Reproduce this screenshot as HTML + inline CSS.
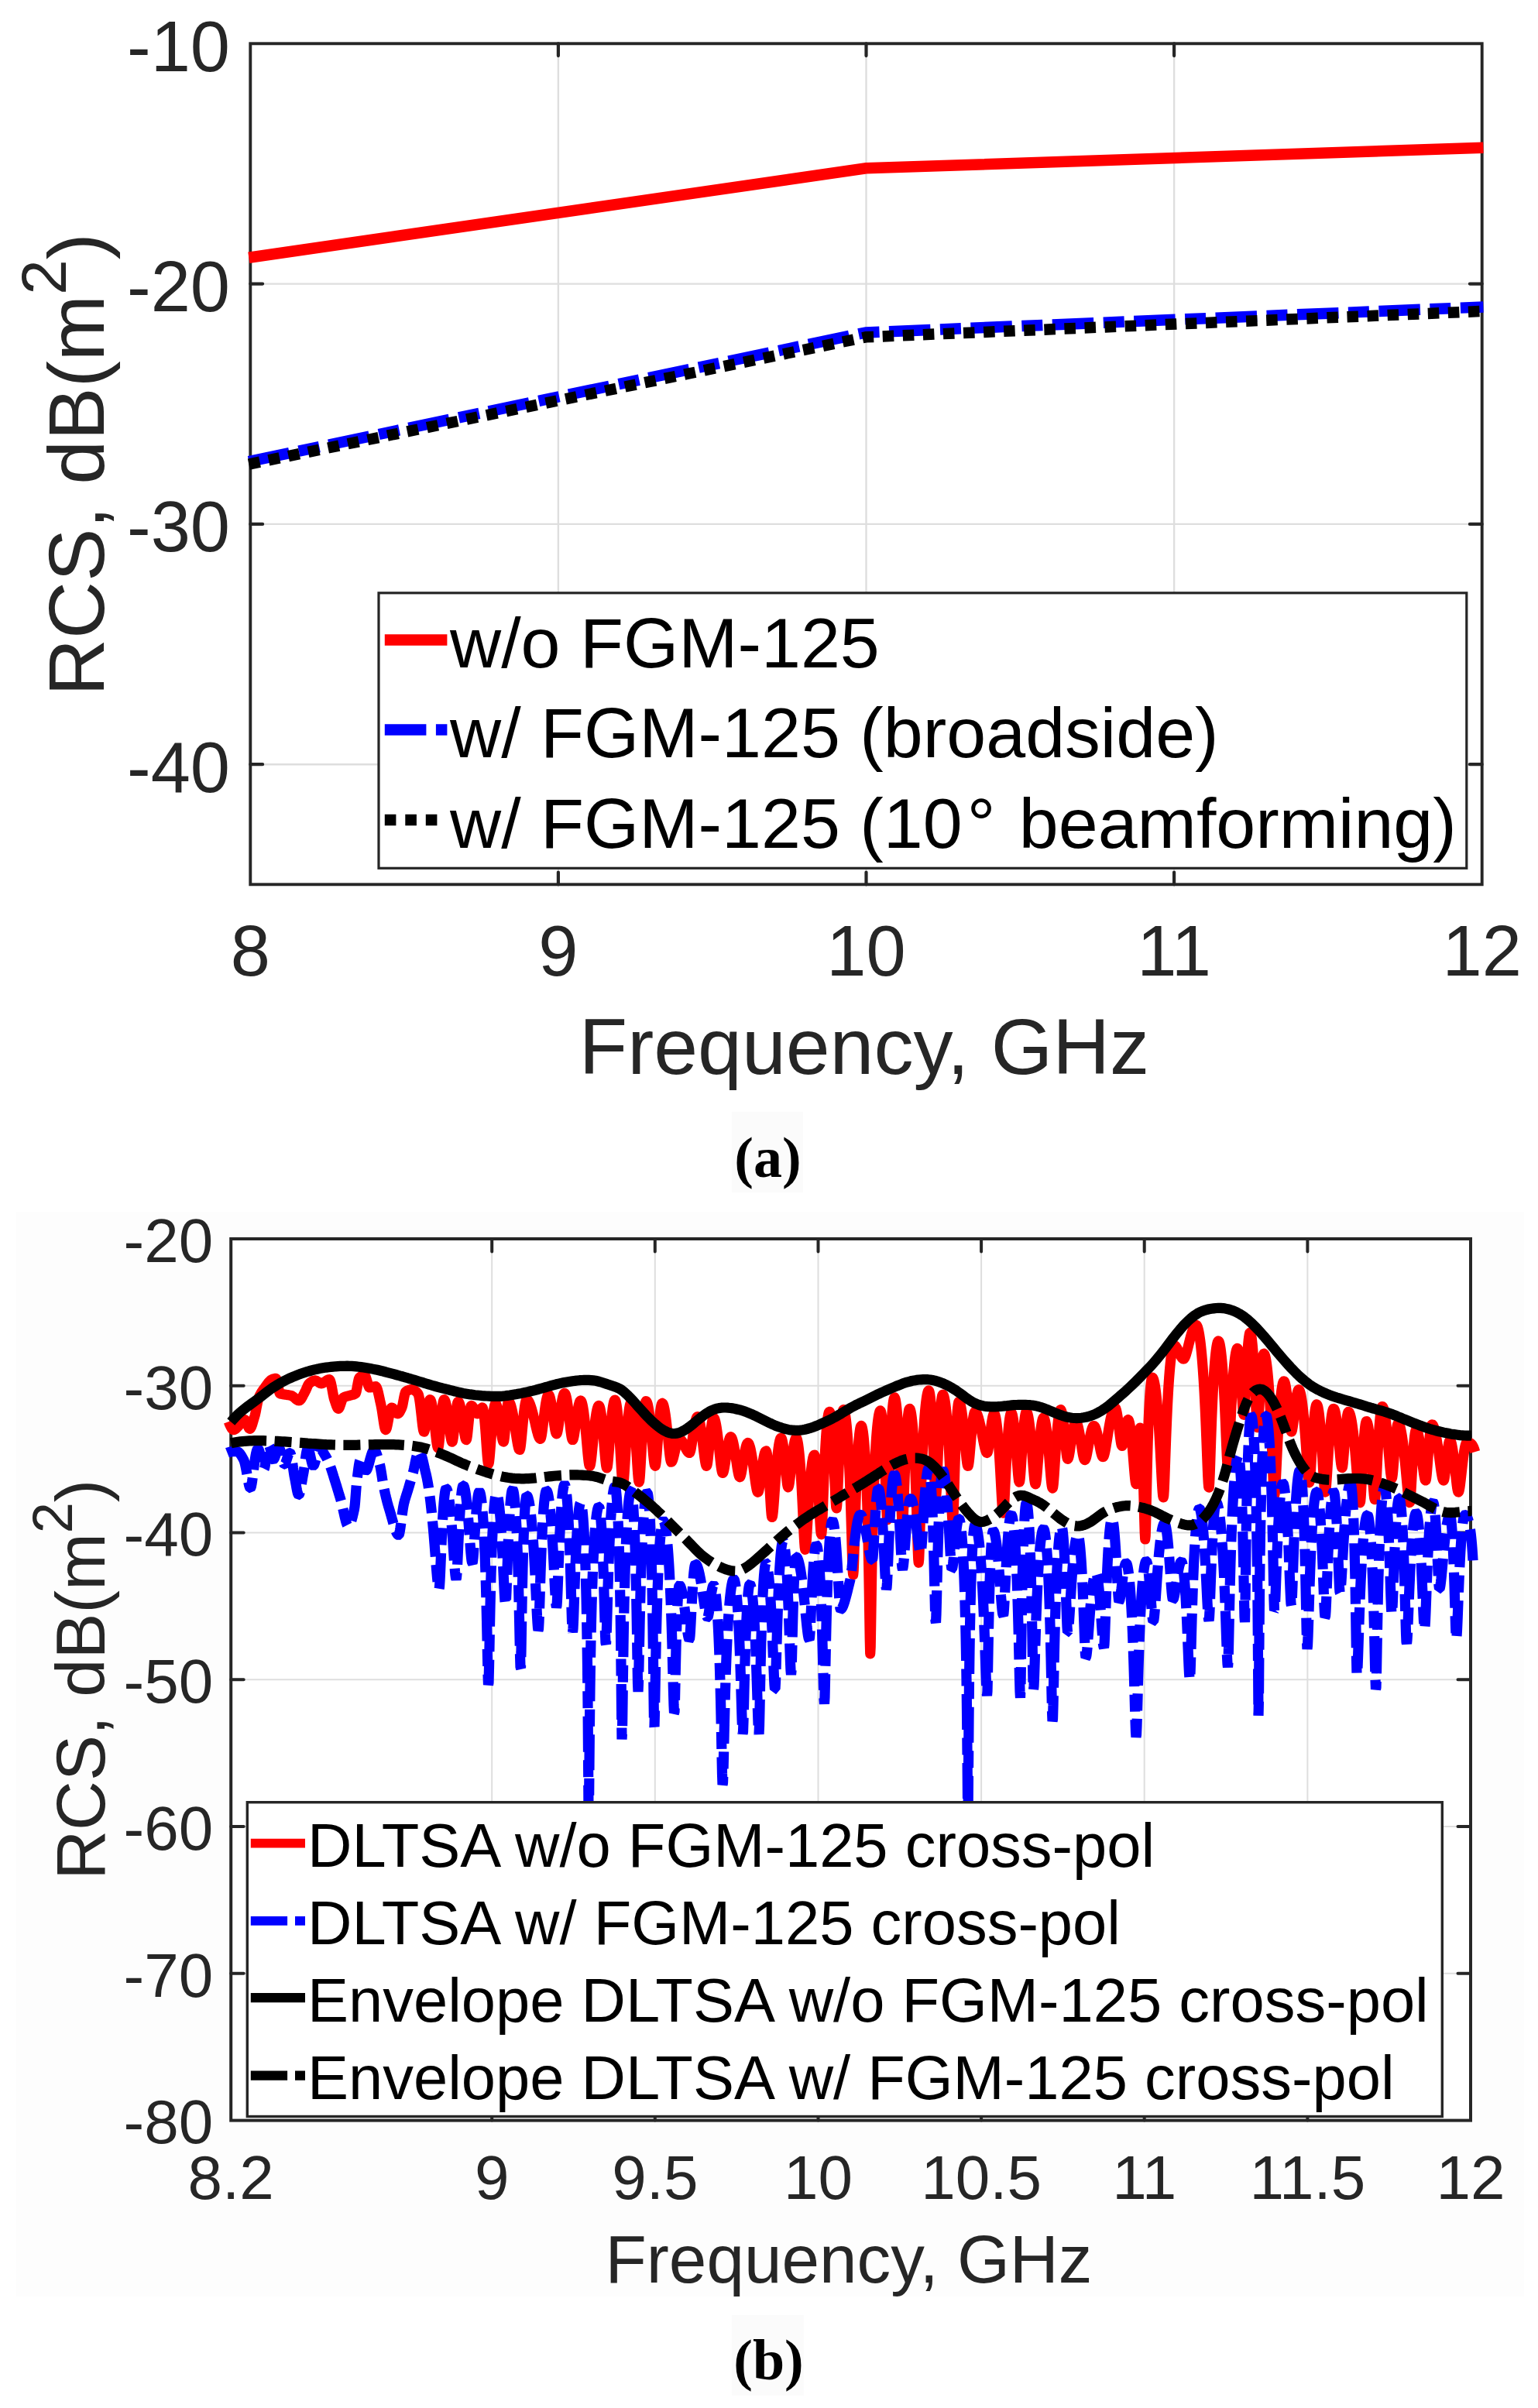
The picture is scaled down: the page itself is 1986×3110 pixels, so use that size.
<!DOCTYPE html>
<html lang="en">
<head>
<meta charset="utf-8">
<title>RCS vs Frequency</title>
<style>
html,body{margin:0;padding:0;background:#fff;}
body{width:1986px;height:3110px;overflow:hidden;}
svg{display:block;}
</style>
</head>
<body>
<svg width="1986" height="3110" viewBox="0 0 1986 3110">
<rect width="1986" height="3110" fill="#fff"/>
<g id="plot-a">
<line x1="720.9" y1="56.3" x2="720.9" y2="1142.3" stroke="#dedede" stroke-width="2.4"/>
<line x1="1118.5" y1="56.3" x2="1118.5" y2="1142.3" stroke="#dedede" stroke-width="2.4"/>
<line x1="1516.1" y1="56.3" x2="1516.1" y2="1142.3" stroke="#dedede" stroke-width="2.4"/>
<line x1="323.3" y1="366.6" x2="1913.7" y2="366.6" stroke="#dedede" stroke-width="2.4"/>
<line x1="323.3" y1="676.9" x2="1913.7" y2="676.9" stroke="#dedede" stroke-width="2.4"/>
<line x1="323.3" y1="987.2" x2="1913.7" y2="987.2" stroke="#dedede" stroke-width="2.4"/>
<path d="M720.9 1142.3 v-15.8 M720.9 56.3 v15.8" stroke="#262626" stroke-width="4.2" stroke-linecap="round" fill="none"/>
<path d="M1118.5 1142.3 v-15.8 M1118.5 56.3 v15.8" stroke="#262626" stroke-width="4.2" stroke-linecap="round" fill="none"/>
<path d="M1516.1 1142.3 v-15.8 M1516.1 56.3 v15.8" stroke="#262626" stroke-width="4.2" stroke-linecap="round" fill="none"/>
<path d="M323.3 366.6 h15.8 M1913.7 366.6 h-15.8" stroke="#262626" stroke-width="4.2" stroke-linecap="round" fill="none"/>
<path d="M323.3 676.9 h15.8 M1913.7 676.9 h-15.8" stroke="#262626" stroke-width="4.2" stroke-linecap="round" fill="none"/>
<path d="M323.3 987.2 h15.8 M1913.7 987.2 h-15.8" stroke="#262626" stroke-width="4.2" stroke-linecap="round" fill="none"/>
<rect x="323.3" y="56.3" width="1590.4" height="1086" fill="none" stroke="#262626" stroke-width="3.9"/>
<path d="M321.3 332.7 L1118.3 217.3 L1915.4 190.7" fill="none" stroke="#ff0000" stroke-width="14.5"/>
<path d="M321.3 596.1 L1118.3 429.4 L1915.4 396.4" fill="none" stroke="#0000ff" stroke-width="14.5" stroke-dasharray="53.5 12.5 27 12.5"/>
<path d="M321.3 599.6 L1118.3 435.3 L1915.4 401.9" fill="none" stroke="#000" stroke-width="14.5" stroke-dasharray="14.5 11.6"/>
<g font-family="'Liberation Sans', sans-serif" font-size="92" fill="#262626">
<text x="297" y="91.6" text-anchor="end">-10</text>
<text x="297" y="401.9" text-anchor="end">-20</text>
<text x="297" y="712.2" text-anchor="end">-30</text>
<text x="297" y="1022.5" text-anchor="end">-40</text>
<text x="323.3" y="1260" text-anchor="middle">8</text>
<text x="720.9" y="1260" text-anchor="middle">9</text>
<text x="1118.5" y="1260" text-anchor="middle">10</text>
<text x="1516.1" y="1260" text-anchor="middle">11</text>
<text x="1913.7" y="1260" text-anchor="middle">12</text>
</g>
<text x="1116" y="1386.5" font-family="'Liberation Sans', sans-serif" font-size="102.2" fill="#262626" text-anchor="middle">Frequency, GHz</text>
<text transform="translate(134 600) rotate(-90)" font-family="'Liberation Sans', sans-serif" font-size="102.5" fill="#262626" text-anchor="middle">RCS, dB(m<tspan dy="-49" font-size="82">2</tspan><tspan dy="49">)</tspan></text>
<rect x="489" y="765.8" width="1404.8" height="355.5" fill="#fff" stroke="#262626" stroke-width="3.2"/>
<path d="M496.8 826.6 H577.4" stroke="#ff0000" stroke-width="14.5" fill="none"/>
<path d="M496.8 942.6 H577.4" stroke="#0000ff" stroke-width="14.5" stroke-dasharray="53.6 12.5 27 12" fill="none"/>
<path d="M496.8 1059 H570" stroke="#000" stroke-width="14.5" stroke-dasharray="14.6 11.9" fill="none"/>
<g font-family="'Liberation Sans', sans-serif" font-size="91.6" fill="#000">
<text x="581" y="861.5">w/o FGM-125</text>
<text x="581" y="977.5">w/ FGM-125 (broadside)</text>
<text x="581" y="1094.5">w/ FGM-125 (10<tspan dx="6">°</tspan><tspan dx="5"> beamforming)</tspan></text>
</g>
<rect x="945" y="1436" width="92" height="104" fill="#fbfbfb"/>
<text x="991.5" y="1519.5" font-family="'Liberation Serif', serif" font-size="74" font-weight="bold" fill="#000" text-anchor="middle">(a)</text>
</g>
<g id="plot-b">
<rect x="21" y="1565" width="1947" height="1401" fill="#fdfdfd"/>
<rect x="298.2" y="1600" width="1600.8" height="1138.6" fill="#fff"/>
<line x1="635.2" y1="1600" x2="635.2" y2="2738.6" stroke="#dedede" stroke-width="2"/>
<line x1="845.8" y1="1600" x2="845.8" y2="2738.6" stroke="#dedede" stroke-width="2"/>
<line x1="1056.5" y1="1600" x2="1056.5" y2="2738.6" stroke="#dedede" stroke-width="2"/>
<line x1="1267.1" y1="1600" x2="1267.1" y2="2738.6" stroke="#dedede" stroke-width="2"/>
<line x1="1477.7" y1="1600" x2="1477.7" y2="2738.6" stroke="#dedede" stroke-width="2"/>
<line x1="1688.4" y1="1600" x2="1688.4" y2="2738.6" stroke="#dedede" stroke-width="2"/>
<line x1="298.2" y1="1789.8" x2="1899" y2="1789.8" stroke="#dedede" stroke-width="2"/>
<line x1="298.2" y1="1979.5" x2="1899" y2="1979.5" stroke="#dedede" stroke-width="2"/>
<line x1="298.2" y1="2169.3" x2="1899" y2="2169.3" stroke="#dedede" stroke-width="2"/>
<line x1="298.2" y1="2359.1" x2="1899" y2="2359.1" stroke="#dedede" stroke-width="2"/>
<line x1="298.2" y1="2548.8" x2="1899" y2="2548.8" stroke="#dedede" stroke-width="2"/>
<path d="M635.2 2738.6 v-16.5 M635.2 1600 v16.5" stroke="#262626" stroke-width="4" stroke-linecap="round" fill="none"/>
<path d="M845.8 2738.6 v-16.5 M845.8 1600 v16.5" stroke="#262626" stroke-width="4" stroke-linecap="round" fill="none"/>
<path d="M1056.5 2738.6 v-16.5 M1056.5 1600 v16.5" stroke="#262626" stroke-width="4" stroke-linecap="round" fill="none"/>
<path d="M1267.1 2738.6 v-16.5 M1267.1 1600 v16.5" stroke="#262626" stroke-width="4" stroke-linecap="round" fill="none"/>
<path d="M1477.7 2738.6 v-16.5 M1477.7 1600 v16.5" stroke="#262626" stroke-width="4" stroke-linecap="round" fill="none"/>
<path d="M1688.4 2738.6 v-16.5 M1688.4 1600 v16.5" stroke="#262626" stroke-width="4" stroke-linecap="round" fill="none"/>
<path d="M298.2 1789.8 h16.5 M1899 1789.8 h-16.5" stroke="#262626" stroke-width="4" stroke-linecap="round" fill="none"/>
<path d="M298.2 1979.5 h16.5 M1899 1979.5 h-16.5" stroke="#262626" stroke-width="4" stroke-linecap="round" fill="none"/>
<path d="M298.2 2169.3 h16.5 M1899 2169.3 h-16.5" stroke="#262626" stroke-width="4" stroke-linecap="round" fill="none"/>
<path d="M298.2 2359.1 h16.5 M1899 2359.1 h-16.5" stroke="#262626" stroke-width="4" stroke-linecap="round" fill="none"/>
<path d="M298.2 2548.8 h16.5 M1899 2548.8 h-16.5" stroke="#262626" stroke-width="4" stroke-linecap="round" fill="none"/>
<rect x="298.2" y="1600" width="1600.8" height="1138.6" fill="none" stroke="#262626" stroke-width="4"/>
<path d="M295.2 1836.2 L295.7 1837.5 L296.2 1838.7 L296.7 1839.9 L297.2 1841 L297.7 1842.1 L298.2 1843 L298.7 1843.9 L299.2 1844.7 L299.7 1845.4 L300.2 1845.9 L300.7 1846.3 L301.2 1846.5 L301.7 1846.6 L302.2 1846.6 L302.7 1846.4 L303.2 1846.2 L303.7 1845.9 L304.2 1845.5 L304.7 1845.1 L305.2 1844.6 L305.7 1844.1 L306.2 1843.6 L306.7 1843.1 L307.2 1842.5 L307.7 1842 L308.2 1841.4 L308.7 1840.9 L309.2 1840.4 L309.7 1839.9 L310.2 1839.4 L310.7 1838.8 L311.2 1838.2 L311.7 1837.5 L312.2 1836.8 L312.7 1836.2 L313.2 1835.6 L313.7 1835 L314.2 1834.5 L314.7 1834.1 L315.2 1833.8 L315.7 1833.7 L316.2 1833.7 L316.7 1834 L317.2 1834.6 L317.7 1835.5 L318.2 1836.6 L318.7 1837.8 L319.2 1839.1 L319.7 1840.5 L320.2 1841.8 L320.7 1843 L321.2 1844 L321.7 1844.8 L322.2 1845.2 L322.7 1845.3 L323.2 1845 L323.7 1844.4 L324.2 1843.5 L324.7 1842.4 L325.2 1841.1 L325.7 1839.6 L326.2 1838 L326.7 1836.4 L327.2 1834.6 L327.7 1832.9 L328.2 1831.2 L328.7 1829.5 L329.2 1827.8 L329.7 1825.7 L330.2 1823.4 L330.7 1820.8 L331.2 1818.1 L331.7 1815.5 L332.2 1812.9 L332.7 1810.5 L333.2 1808.4 L333.7 1806.5 L334.2 1805 L334.7 1803.8 L335.2 1802.7 L335.7 1801.6 L336.2 1800.7 L336.7 1799.7 L337.2 1798.9 L337.7 1798.1 L338.2 1797.3 L338.7 1796.6 L339.2 1795.8 L339.7 1795.1 L340.2 1794.5 L340.7 1793.8 L341.2 1793.1 L341.7 1792.4 L342.2 1791.8 L342.7 1791.1 L343.2 1790.4 L343.7 1789.6 L344.2 1788.9 L344.7 1788.2 L345.2 1787.5 L345.7 1786.8 L346.2 1786.1 L346.7 1785.5 L347.2 1784.9 L347.7 1784.3 L348.2 1783.8 L348.7 1783.3 L349.2 1782.8 L349.7 1782.4 L350.2 1782.1 L350.7 1781.8 L351.2 1781.6 L351.7 1781.4 L352.2 1781.2 L352.7 1781 L353.2 1780.9 L353.7 1780.7 L354.2 1780.6 L354.7 1780.5 L355.2 1780.4 L355.7 1780.3 L356.2 1780.3 L356.7 1780.6 L357.2 1781.6 L357.7 1783.3 L358.2 1785.5 L358.7 1788.1 L359.2 1790.8 L359.7 1793.6 L360.2 1796.1 L360.7 1798.1 L361.2 1799.5 L361.7 1799.9 L362.2 1800.1 L362.7 1800.2 L363.2 1800.3 L363.7 1800.4 L364.2 1800.5 L364.7 1800.6 L365.2 1800.7 L365.7 1800.8 L366.2 1800.8 L366.7 1800.9 L367.2 1801 L367.7 1801.1 L368.2 1801.2 L368.7 1801.2 L369.2 1801.3 L369.7 1801.4 L370.2 1801.5 L370.7 1801.5 L371.2 1801.6 L371.7 1801.7 L372.2 1801.7 L372.7 1801.8 L373.2 1801.9 L373.7 1802 L374.2 1802.1 L374.7 1802.2 L375.2 1802.3 L375.7 1802.4 L376.2 1802.5 L376.7 1802.7 L377.2 1803 L377.7 1803.3 L378.2 1803.6 L378.7 1804 L379.2 1804.4 L379.7 1804.8 L380.2 1805.2 L380.7 1805.7 L381.2 1806.1 L381.7 1806.5 L382.2 1807 L382.7 1807.3 L383.2 1807.7 L383.7 1808.1 L384.2 1808.3 L384.7 1808.6 L385.2 1808.8 L385.7 1808.9 L386.2 1808.9 L386.7 1808.8 L387.2 1808.6 L387.7 1808.2 L388.2 1807.7 L388.7 1807 L389.2 1806.3 L389.7 1805.4 L390.2 1804.5 L390.7 1803.6 L391.2 1802.6 L391.7 1801.6 L392.2 1800.6 L392.7 1799.7 L393.2 1798.7 L393.7 1797.8 L394.2 1796.9 L394.7 1795.9 L395.2 1794.8 L395.7 1793.6 L396.2 1792.4 L396.7 1791.2 L397.2 1790.1 L397.7 1789 L398.2 1788.1 L398.7 1787.4 L399.2 1786.8 L399.7 1786.4 L400.2 1786 L400.7 1785.6 L401.2 1785.3 L401.7 1784.9 L402.2 1784.6 L402.7 1784.3 L403.2 1784 L403.7 1783.8 L404.2 1783.5 L404.7 1783.3 L405.2 1783.2 L405.7 1783.1 L406.2 1783 L406.7 1782.9 L407.2 1782.9 L407.7 1783 L408.2 1783.1 L408.7 1783.4 L409.2 1783.6 L409.7 1784 L410.2 1784.3 L410.7 1784.7 L411.2 1785 L411.7 1785.4 L412.2 1785.8 L412.7 1786.1 L413.2 1786.4 L413.7 1786.6 L414.2 1786.7 L414.7 1786.8 L415.2 1786.8 L415.7 1786.7 L416.2 1786.6 L416.7 1786.4 L417.2 1786.1 L417.7 1785.8 L418.2 1785.5 L418.7 1785.2 L419.2 1784.8 L419.7 1784.4 L420.2 1784.1 L420.7 1783.7 L421.2 1783.3 L421.7 1783 L422.2 1782.7 L422.7 1782.4 L423.2 1782.1 L423.7 1781.9 L424.2 1781.8 L424.7 1781.7 L425.2 1781.6 L425.7 1781.9 L426.2 1782.7 L426.7 1784 L427.2 1785.7 L427.7 1787.8 L428.2 1790.2 L428.7 1792.8 L429.2 1795.5 L429.7 1798.3 L430.2 1801 L430.7 1803.5 L431.2 1805.7 L431.7 1807.5 L432.2 1809 L432.7 1810.5 L433.2 1812 L433.7 1813.5 L434.2 1814.9 L434.7 1816.2 L435.2 1817.3 L435.7 1818.3 L436.2 1818.9 L436.7 1819.3 L437.2 1819.3 L437.7 1818.8 L438.2 1817.9 L438.7 1816.8 L439.2 1815.4 L439.7 1813.9 L440.2 1812.4 L440.7 1810.8 L441.2 1809.3 L441.7 1808 L442.2 1806.8 L442.7 1805.8 L443.2 1805.2 L443.7 1804.9 L444.2 1804.6 L444.7 1804.4 L445.2 1804.2 L445.7 1804 L446.2 1803.8 L446.7 1803.7 L447.2 1803.5 L447.7 1803.4 L448.2 1803.2 L448.7 1803.1 L449.2 1803 L449.7 1802.9 L450.2 1802.7 L450.7 1802.6 L451.2 1802.4 L451.7 1802.3 L452.2 1802.1 L452.7 1802 L453.2 1801.9 L453.7 1801.8 L454.2 1801.7 L454.7 1801.5 L455.2 1801.4 L455.7 1801.3 L456.2 1801.1 L456.7 1801 L457.2 1800.8 L457.7 1800.6 L458.2 1800.3 L458.7 1800 L459.2 1799.7 L459.7 1798.6 L460.2 1796.7 L460.7 1794.2 L461.2 1791.5 L461.7 1788.7 L462.2 1785.9 L462.7 1783.5 L463.2 1781.4 L463.7 1779.9 L464.2 1779.1 L464.7 1778.7 L465.2 1778.3 L465.7 1778 L466.2 1777.7 L466.7 1777.5 L467.2 1777.2 L467.7 1777 L468.2 1776.8 L468.7 1776.7 L469.2 1776.6 L469.7 1776.5 L470.2 1776.4 L470.7 1776.4 L471.2 1776.6 L471.7 1777.2 L472.2 1778.2 L472.7 1779.5 L473.2 1781.1 L473.7 1782.8 L474.2 1784.6 L474.7 1786.3 L475.2 1788.1 L475.7 1789.6 L476.2 1790.8 L476.7 1791.7 L477.2 1792 L477.7 1792 L478.2 1792 L478.7 1791.9 L479.2 1791.8 L479.7 1791.7 L480.2 1791.6 L480.7 1791.5 L481.2 1791.4 L481.7 1791.2 L482.2 1791.1 L482.7 1791 L483.2 1790.9 L483.7 1790.8 L484.2 1790.8 L484.7 1790.7 L485.2 1790.7 L485.7 1791.1 L486.2 1791.8 L486.7 1792.9 L487.2 1794.2 L487.7 1795.9 L488.2 1797.8 L488.7 1799.8 L489.2 1802.1 L489.7 1804.4 L490.2 1806.7 L490.7 1809.1 L491.2 1811.3 L491.7 1813.4 L492.2 1815.8 L492.7 1818.4 L493.2 1821.4 L493.7 1824.6 L494.2 1827.9 L494.7 1831.3 L495.2 1834.7 L495.7 1837.9 L496.2 1840.9 L496.7 1843.4 L497.2 1845.2 L497.7 1846.4 L498.2 1846.6 L498.7 1846 L499.2 1844.7 L499.7 1842.8 L500.2 1840.6 L500.7 1838 L501.2 1835.3 L501.7 1832.5 L502.2 1829.8 L502.7 1827.2 L503.2 1824.8 L503.7 1822.7 L504.2 1820.9 L504.7 1819.5 L505.2 1818.5 L505.7 1818.1 L506.2 1818.1 L506.7 1818.3 L507.2 1818.6 L507.7 1819.1 L508.2 1819.6 L508.7 1820.3 L509.2 1821 L509.7 1821.7 L510.2 1822.5 L510.7 1823.2 L511.2 1823.9 L511.7 1824.5 L512.2 1825.1 L512.7 1825.5 L513.2 1825.7 L513.7 1825.8 L514.2 1825.7 L514.7 1825.4 L515.2 1824.9 L515.7 1824.2 L516.2 1823.4 L516.7 1822.6 L517.2 1821.6 L517.7 1820.5 L518.2 1819.5 L518.7 1818.4 L519.2 1817.1 L519.7 1815.3 L520.2 1812.9 L520.7 1810.3 L521.2 1807.6 L521.7 1805 L522.2 1802.6 L522.7 1800.5 L523.2 1798.8 L523.7 1797.6 L524.2 1797.1 L524.7 1796.8 L525.2 1796.5 L525.7 1796.3 L526.2 1796 L526.7 1795.8 L527.2 1795.6 L527.7 1795.4 L528.2 1795.2 L528.7 1795.1 L529.2 1794.9 L529.7 1794.8 L530.2 1794.7 L530.7 1794.7 L531.2 1794.6 L531.7 1794.6 L532.2 1794.6 L532.7 1794.7 L533.2 1794.8 L533.7 1794.9 L534.2 1795.1 L534.7 1795.4 L535.2 1795.7 L535.7 1796 L536.2 1796.4 L536.7 1796.8 L537.2 1797.2 L537.7 1797.7 L538.2 1798.2 L538.7 1798.7 L539.2 1799.3 L539.7 1799.9 L540.2 1800.9 L540.7 1802.6 L541.2 1804.9 L541.7 1807.7 L542.2 1811.1 L542.7 1814.9 L543.2 1819.1 L543.7 1823.5 L544.2 1828.1 L544.7 1832.8 L545.2 1837.3 L545.7 1841.4 L546.2 1844.9 L546.7 1847.5 L547.2 1849 L547.7 1849.1 L548.2 1847.9 L548.7 1845.7 L549.2 1842.7 L549.7 1839.2 L550.2 1835.3 L550.7 1831.3 L551.2 1827.2 L551.7 1823.3 L552.2 1819.7 L552.7 1816.4 L553.2 1813.5 L553.7 1811.2 L554.2 1809.3 L554.7 1808.1 L555.2 1807.6 L555.7 1807.8 L556.2 1808.6 L556.7 1809.9 L557.2 1811.6 L557.7 1813.9 L558.2 1816.5 L558.7 1819.5 L559.2 1822.9 L559.7 1826.7 L560.2 1830.7 L560.7 1835 L561.2 1839.4 L561.7 1844.1 L562.2 1848.7 L562.7 1853.3 L563.2 1857.6 L563.7 1861.6 L564.2 1865.1 L564.7 1867.7 L565.2 1869.5 L565.7 1870 L566.2 1868.9 L566.7 1865.8 L567.2 1861.3 L567.7 1855.8 L568.2 1849.8 L568.7 1843.6 L569.2 1837.5 L569.7 1831.7 L570.2 1826.3 L570.7 1821.5 L571.2 1817.2 L571.7 1813.7 L572.2 1810.8 L572.7 1808.9 L573.2 1807.8 L573.7 1807.7 L574.2 1808.2 L574.7 1809.1 L575.2 1810.6 L575.7 1812.4 L576.2 1814.7 L576.7 1817.3 L577.2 1820.2 L577.7 1823.4 L578.2 1826.9 L578.7 1830.6 L579.2 1834.5 L579.7 1838.5 L580.2 1842.5 L580.7 1846.5 L581.2 1850.3 L581.7 1853.8 L582.2 1857 L582.7 1859.5 L583.2 1861.3 L583.7 1862.2 L584.2 1861.9 L584.7 1860.1 L585.2 1856.9 L585.7 1852.9 L586.2 1848.2 L586.7 1843.1 L587.2 1838 L587.7 1833 L588.2 1828.3 L588.7 1823.9 L589.2 1820.1 L589.7 1816.7 L590.2 1814 L590.7 1811.9 L591.2 1810.7 L591.7 1810.2 L592.2 1810.5 L592.7 1811.2 L593.2 1812.4 L593.7 1813.9 L594.2 1815.9 L594.7 1818.1 L595.2 1820.7 L595.7 1823.6 L596.2 1826.7 L596.7 1830 L597.2 1833.4 L597.7 1837 L598.2 1840.7 L598.7 1844.3 L599.2 1847.7 L599.7 1851 L600.2 1853.9 L600.7 1856.4 L601.2 1858.2 L601.7 1859.4 L602.2 1859.6 L602.7 1858.2 L603.2 1855.2 L603.7 1851.1 L604.2 1846.3 L604.7 1841.2 L605.2 1836 L605.7 1831.1 L606.2 1826.7 L606.7 1822.8 L607.2 1819.6 L607.7 1817.2 L608.2 1815.8 L608.7 1815.4 L609.2 1815.6 L609.7 1816 L610.2 1816.5 L610.7 1817.2 L611.2 1818 L611.7 1818.9 L612.2 1819.9 L612.7 1820.9 L613.2 1821.9 L613.7 1822.8 L614.2 1823.7 L614.7 1824.5 L615.2 1825.1 L615.7 1825.6 L616.2 1825.8 L616.7 1825.8 L617.2 1825.5 L617.7 1825 L618.2 1824.3 L618.7 1823.5 L619.2 1822.6 L619.7 1821.7 L620.2 1820.9 L620.7 1820 L621.2 1819.3 L621.7 1818.7 L622.2 1818.3 L622.7 1818 L623.2 1818.2 L623.7 1819.5 L624.2 1821.7 L624.7 1824.8 L625.2 1828.8 L625.7 1833.6 L626.2 1839.2 L626.7 1845.3 L627.2 1852.1 L627.7 1859.2 L628.2 1866.5 L628.7 1873.6 L629.2 1880.2 L629.7 1885.7 L630.2 1889.5 L630.7 1890.8 L631.2 1889.7 L631.7 1886.6 L632.2 1881.9 L632.7 1876.2 L633.2 1869.8 L633.7 1863.1 L634.2 1856.3 L634.7 1849.8 L635.2 1843.6 L635.7 1837.7 L636.2 1832.4 L636.7 1827.7 L637.2 1823.5 L637.7 1820 L638.2 1817.1 L638.7 1814.9 L639.2 1813.5 L639.7 1812.8 L640.2 1813 L640.7 1813.6 L641.2 1814.7 L641.7 1816.1 L642.2 1818 L642.7 1820.2 L643.2 1822.7 L643.7 1825.5 L644.2 1828.5 L644.7 1831.8 L645.2 1835.2 L645.7 1838.8 L646.2 1842.4 L646.7 1846 L647.2 1849.6 L647.7 1852.9 L648.2 1855.9 L648.7 1858.5 L649.2 1860.5 L649.7 1861.8 L650.2 1862.2 L650.7 1861.1 L651.2 1857.8 L651.7 1853 L652.2 1847.4 L652.7 1841.3 L653.2 1835.2 L653.7 1829.4 L654.2 1824.1 L654.7 1819.5 L655.2 1815.7 L655.7 1812.8 L656.2 1810.9 L656.7 1810.2 L657.2 1810.4 L657.7 1810.8 L658.2 1811.6 L658.7 1812.6 L659.2 1813.8 L659.7 1815.3 L660.2 1817 L660.7 1819 L661.2 1821.2 L661.7 1823.5 L662.2 1826 L662.7 1828.8 L663.2 1831.6 L663.7 1834.7 L664.2 1837.8 L664.7 1841.1 L665.2 1844.4 L665.7 1847.7 L666.2 1851.1 L666.7 1854.5 L667.2 1857.7 L667.7 1860.8 L668.2 1863.7 L668.7 1866.4 L669.2 1868.6 L669.7 1870.5 L670.2 1871.8 L670.7 1872.5 L671.2 1872.5 L671.7 1871 L672.2 1868.2 L672.7 1864.2 L673.2 1859.4 L673.7 1854.1 L674.2 1848.6 L674.7 1843.1 L675.2 1837.7 L675.7 1832.5 L676.2 1827.7 L676.7 1823.3 L677.2 1819.3 L677.7 1815.8 L678.2 1812.9 L678.7 1810.6 L679.2 1808.9 L679.7 1807.9 L680.2 1807.6 L680.7 1807.7 L681.2 1808 L681.7 1808.5 L682.2 1809.1 L682.7 1809.8 L683.2 1810.7 L683.7 1811.8 L684.2 1812.9 L684.7 1814.2 L685.2 1815.6 L685.7 1817.1 L686.2 1818.7 L686.7 1820.4 L687.2 1822.2 L687.7 1824.1 L688.2 1826 L688.7 1828.1 L689.2 1830.2 L689.7 1832.3 L690.2 1834.4 L690.7 1836.6 L691.2 1838.8 L691.7 1841 L692.2 1843.2 L692.7 1845.3 L693.2 1847.3 L693.7 1849.3 L694.2 1851.1 L694.7 1852.8 L695.2 1854.3 L695.7 1855.6 L696.2 1856.7 L696.7 1857.6 L697.2 1858.1 L697.7 1858.3 L698.2 1858 L698.7 1856.6 L699.2 1854.4 L699.7 1851.4 L700.2 1847.9 L700.7 1844 L701.2 1839.9 L701.7 1835.7 L702.2 1831.4 L702.7 1827.3 L703.2 1823.3 L703.7 1819.5 L704.2 1816 L704.7 1812.8 L705.2 1809.9 L705.7 1807.4 L706.2 1805.2 L706.7 1803.5 L707.2 1802.2 L707.7 1801.4 L708.2 1801.1 L708.7 1801.4 L709.2 1802.1 L709.7 1803.3 L710.2 1804.8 L710.7 1806.8 L711.2 1809.1 L711.7 1811.7 L712.2 1814.6 L712.7 1817.8 L713.2 1821.2 L713.7 1824.7 L714.2 1828.4 L714.7 1832.2 L715.2 1835.9 L715.7 1839.5 L716.2 1842.8 L716.7 1845.9 L717.2 1848.4 L717.7 1850.3 L718.2 1851.5 L718.7 1851.8 L719.2 1851.1 L719.7 1849.6 L720.2 1847.3 L720.7 1844.4 L721.2 1841.1 L721.7 1837.5 L722.2 1833.7 L722.7 1829.9 L723.2 1826 L723.7 1822.2 L724.2 1818.6 L724.7 1815.2 L725.2 1812.1 L725.7 1809.2 L726.2 1806.6 L726.7 1804.3 L727.2 1802.5 L727.7 1801 L728.2 1800 L728.7 1799.4 L729.2 1799.3 L729.7 1799.8 L730.2 1800.9 L730.7 1802.4 L731.2 1804.3 L731.7 1806.7 L732.2 1809.5 L732.7 1812.7 L733.2 1816.1 L733.7 1819.9 L734.2 1824 L734.7 1828.2 L735.2 1832.6 L735.7 1837.1 L736.2 1841.6 L736.7 1845.9 L737.2 1849.9 L737.7 1853.4 L738.2 1856.4 L738.7 1858.4 L739.2 1859.5 L739.7 1859.5 L740.2 1858.5 L740.7 1856.7 L741.2 1854.3 L741.7 1851.4 L742.2 1848.1 L742.7 1844.5 L743.2 1840.9 L743.7 1837.1 L744.2 1833.4 L744.7 1829.8 L745.2 1826.4 L745.7 1823.2 L746.2 1820.2 L746.7 1817.5 L747.2 1815.1 L747.7 1813.1 L748.2 1811.4 L748.7 1810.1 L749.2 1809.3 L749.7 1808.9 L750.2 1809.1 L750.7 1809.8 L751.2 1811 L751.7 1812.7 L752.2 1814.8 L752.7 1817.4 L753.2 1820.4 L753.7 1823.8 L754.2 1827.6 L754.7 1831.7 L755.2 1836.3 L755.7 1841.1 L756.2 1846.3 L756.7 1851.7 L757.2 1857.3 L757.7 1863 L758.2 1868.7 L758.7 1874.3 L759.2 1879.6 L759.7 1884.4 L760.2 1888.4 L760.7 1891.4 L761.2 1893.1 L761.7 1893.4 L762.2 1892.2 L762.7 1889.8 L763.2 1886.5 L763.7 1882.4 L764.2 1877.7 L764.7 1872.7 L765.2 1867.5 L765.7 1862.3 L766.2 1857.1 L766.7 1852 L767.2 1847.1 L767.7 1842.5 L768.2 1838.2 L768.7 1834.2 L769.2 1830.5 L769.7 1827.2 L770.2 1824.2 L770.7 1821.7 L771.2 1819.5 L771.7 1817.8 L772.2 1816.5 L772.7 1815.7 L773.2 1815.4 L773.7 1815.7 L774.2 1816.7 L774.7 1818.3 L775.2 1820.4 L775.7 1823.1 L776.2 1826.3 L776.7 1830 L777.2 1834.2 L777.7 1838.8 L778.2 1843.9 L778.7 1849.3 L779.2 1855 L779.7 1861 L780.2 1867.1 L780.7 1873.2 L781.2 1879.1 L781.7 1884.6 L782.2 1889.3 L782.7 1893 L783.2 1895.4 L783.7 1896 L784.2 1894.7 L784.7 1891.5 L785.2 1886.9 L785.7 1881.2 L786.2 1874.9 L786.7 1868.3 L787.2 1861.5 L787.7 1854.9 L788.2 1848.5 L788.7 1842.4 L789.2 1836.7 L789.7 1831.4 L790.2 1826.7 L790.7 1822.4 L791.2 1818.6 L791.7 1815.4 L792.2 1812.7 L792.7 1810.6 L793.2 1809.1 L793.7 1808.3 L794.2 1808.2 L794.7 1808.9 L795.2 1810.3 L795.7 1812.4 L796.2 1815.2 L796.7 1818.7 L797.2 1822.8 L797.7 1827.5 L798.2 1832.8 L798.7 1838.8 L799.2 1845.3 L799.7 1852.4 L800.2 1860.1 L800.7 1868.2 L801.2 1876.6 L801.7 1885.2 L802.2 1893.7 L802.7 1901.6 L803.2 1908.5 L803.7 1913.7 L804.2 1916.5 L804.7 1916.4 L805.2 1913.6 L805.7 1908.6 L806.2 1901.9 L806.7 1894.3 L807.2 1886.1 L807.7 1877.8 L808.2 1869.7 L808.7 1861.8 L809.2 1854.4 L809.7 1847.5 L810.2 1841.2 L810.7 1835.4 L811.2 1830.2 L811.7 1825.6 L812.2 1821.6 L812.7 1818.3 L813.2 1815.6 L813.7 1813.5 L814.2 1812.2 L814.7 1811.6 L815.2 1811.7 L815.7 1812.7 L816.2 1814.3 L816.7 1816.7 L817.2 1819.6 L817.7 1823.2 L818.2 1827.4 L818.7 1832.2 L819.2 1837.6 L819.7 1843.5 L820.2 1850 L820.7 1857 L821.2 1864.4 L821.7 1872.2 L822.2 1880.2 L822.7 1888.3 L823.2 1896 L823.7 1903 L824.2 1908.7 L824.7 1912.7 L825.2 1914.2 L825.7 1912.7 L826.2 1908 L826.7 1900.9 L827.2 1892.3 L827.7 1883.1 L828.2 1873.7 L828.7 1864.6 L829.2 1855.9 L829.7 1847.8 L830.2 1840.4 L830.7 1833.7 L831.2 1827.9 L831.7 1822.8 L832.2 1818.4 L832.7 1815 L833.2 1812.3 L833.7 1810.5 L834.2 1809.7 L834.7 1809.8 L835.2 1810.5 L835.7 1811.7 L836.2 1813.3 L836.7 1815.4 L837.2 1818 L837.7 1820.9 L838.2 1824.3 L838.7 1828 L839.2 1832.2 L839.7 1836.6 L840.2 1841.4 L840.7 1846.5 L841.2 1851.9 L841.7 1857.4 L842.2 1863.1 L842.7 1868.7 L843.2 1874.3 L843.7 1879.5 L844.2 1884.3 L844.7 1888.3 L845.2 1891.3 L845.7 1893.1 L846.2 1893.3 L846.7 1891.4 L847.2 1887.6 L847.7 1882.2 L848.2 1875.9 L848.7 1869 L849.2 1862 L849.7 1855 L850.2 1848.3 L850.7 1842 L851.2 1836.2 L851.7 1830.9 L852.2 1826.1 L852.7 1822 L853.2 1818.6 L853.7 1815.9 L854.2 1813.9 L854.7 1812.7 L855.2 1812.3 L855.7 1812.6 L856.2 1813.4 L856.7 1814.7 L857.2 1816.4 L857.7 1818.6 L858.2 1821.1 L858.7 1824 L859.2 1827.3 L859.7 1830.9 L860.2 1834.9 L860.7 1839.1 L861.2 1843.7 L861.7 1848.4 L862.2 1853.4 L862.7 1858.4 L863.2 1863.5 L863.7 1868.5 L864.2 1873.4 L864.7 1877.8 L865.2 1881.8 L865.7 1884.9 L866.2 1887.1 L866.7 1888.2 L867.2 1888.1 L867.7 1887.6 L868.2 1886.6 L868.7 1885.3 L869.2 1883.7 L869.7 1881.9 L870.2 1879.9 L870.7 1877.8 L871.2 1875.6 L871.7 1873.5 L872.2 1871.3 L872.7 1869.2 L873.2 1867.3 L873.7 1865.4 L874.2 1863.7 L874.7 1862.2 L875.2 1860.9 L875.7 1859.9 L876.2 1859.1 L876.7 1858.5 L877.2 1858.3 L877.7 1858.4 L878.2 1858.6 L878.7 1858.9 L879.2 1859.3 L879.7 1859.9 L880.2 1860.5 L880.7 1861.2 L881.2 1862 L881.7 1862.9 L882.2 1863.8 L882.7 1864.8 L883.2 1865.8 L883.7 1866.8 L884.2 1867.9 L884.7 1868.9 L885.2 1870 L885.7 1871 L886.2 1872 L886.7 1872.9 L887.2 1873.7 L887.7 1874.5 L888.2 1875.2 L888.7 1875.7 L889.2 1876.2 L889.7 1876.4 L890.2 1876.5 L890.7 1876.2 L891.2 1875.1 L891.7 1873.3 L892.2 1871 L892.7 1868.2 L893.2 1865.1 L893.7 1861.8 L894.2 1858.4 L894.7 1855 L895.2 1851.6 L895.7 1848.3 L896.2 1845.2 L896.7 1842.2 L897.2 1839.5 L897.7 1837.1 L898.2 1834.9 L898.7 1833.1 L899.2 1831.7 L899.7 1830.6 L900.2 1829.9 L900.7 1829.7 L901.2 1830 L901.7 1830.7 L902.2 1831.9 L902.7 1833.4 L903.2 1835.3 L903.7 1837.5 L904.2 1840.1 L904.7 1842.9 L905.2 1846.1 L905.7 1849.5 L906.2 1853.2 L906.7 1857 L907.2 1861.1 L907.7 1865.2 L908.2 1869.4 L908.7 1873.6 L909.2 1877.7 L909.7 1881.6 L910.2 1885.2 L910.7 1888.3 L911.2 1890.8 L911.7 1892.6 L912.2 1893.4 L912.7 1893.1 L913.2 1891.3 L913.7 1888.2 L914.2 1884.1 L914.7 1879.4 L915.2 1874.3 L915.7 1869 L916.2 1863.8 L916.7 1858.6 L917.2 1853.7 L917.7 1849.2 L918.2 1845 L918.7 1841.3 L919.2 1838.1 L919.7 1835.5 L920.2 1833.4 L920.7 1831.9 L921.2 1831.1 L921.7 1831.1 L922.2 1831.6 L922.7 1832.5 L923.2 1833.9 L923.7 1835.7 L924.2 1837.9 L924.7 1840.5 L925.2 1843.4 L925.7 1846.7 L926.2 1850.2 L926.7 1854.1 L927.2 1858.2 L927.7 1862.6 L928.2 1867.2 L928.7 1871.9 L929.2 1876.6 L929.7 1881.4 L930.2 1886 L930.7 1890.4 L931.2 1894.4 L931.7 1897.7 L932.2 1900.4 L932.7 1902 L933.2 1902.5 L933.7 1902.1 L934.2 1900.8 L934.7 1898.9 L935.2 1896.5 L935.7 1893.7 L936.2 1890.6 L936.7 1887.2 L937.2 1883.8 L937.7 1880.4 L938.2 1877 L938.7 1873.7 L939.2 1870.6 L939.7 1867.7 L940.2 1865.1 L940.7 1862.7 L941.2 1860.6 L941.7 1858.9 L942.2 1857.5 L942.7 1856.5 L943.2 1855.9 L943.7 1855.7 L944.2 1856.1 L944.7 1856.7 L945.2 1857.8 L945.7 1859.2 L946.2 1860.8 L946.7 1862.8 L947.2 1865.1 L947.7 1867.5 L948.2 1870.3 L948.7 1873.2 L949.2 1876.3 L949.7 1879.5 L950.2 1882.8 L950.7 1886.2 L951.2 1889.6 L951.7 1893 L952.2 1896.2 L952.7 1899.2 L953.2 1901.9 L953.7 1904.2 L954.2 1906 L954.7 1907.2 L955.2 1907.7 L955.7 1907.5 L956.2 1906.5 L956.7 1904.8 L957.2 1902.7 L957.7 1900.1 L958.2 1897.2 L958.7 1894.1 L959.2 1890.9 L959.7 1887.7 L960.2 1884.5 L960.7 1881.4 L961.2 1878.4 L961.7 1875.6 L962.2 1873 L962.7 1870.7 L963.2 1868.6 L963.7 1866.9 L964.2 1865.4 L964.7 1864.4 L965.2 1863.8 L965.7 1863.5 L966.2 1863.7 L966.7 1864.3 L967.2 1865.2 L967.7 1866.5 L968.2 1868 L968.7 1869.8 L969.2 1871.9 L969.7 1874.3 L970.2 1876.9 L970.7 1879.8 L971.2 1882.8 L971.7 1886.1 L972.2 1889.5 L972.7 1893.1 L973.2 1896.8 L973.7 1900.5 L974.2 1904.3 L974.7 1908.1 L975.2 1911.8 L975.7 1915.3 L976.2 1918.5 L976.7 1921.4 L977.2 1923.9 L977.7 1925.7 L978.2 1926.9 L978.7 1927.3 L979.2 1926.7 L979.7 1925.3 L980.2 1923.1 L980.7 1920.2 L981.2 1916.9 L981.7 1913.3 L982.2 1909.4 L982.7 1905.5 L983.2 1901.6 L983.7 1897.8 L984.2 1894.1 L984.7 1890.6 L985.2 1887.3 L985.7 1884.4 L986.2 1881.7 L986.7 1879.4 L987.2 1877.4 L987.7 1875.9 L988.2 1874.8 L988.7 1874.1 L989.2 1874 L989.7 1874.9 L990.2 1876.9 L990.7 1880 L991.2 1884.2 L991.7 1889.2 L992.2 1895.1 L992.7 1901.9 L993.2 1909.4 L993.7 1917.6 L994.2 1926.2 L994.7 1934.9 L995.2 1943.3 L995.7 1950.8 L996.2 1956.5 L996.7 1959.5 L997.2 1959.3 L997.7 1957 L998.2 1953 L998.7 1947.6 L999.2 1941.3 L999.7 1934.4 L1000.2 1927.3 L1000.7 1920.2 L1001.2 1913.1 L1001.7 1906.4 L1002.2 1899.9 L1002.7 1893.8 L1003.2 1888.2 L1003.7 1882.9 L1004.2 1878.1 L1004.7 1873.8 L1005.2 1869.9 L1005.7 1866.6 L1006.2 1863.7 L1006.7 1861.3 L1007.2 1859.4 L1007.7 1858 L1008.2 1857.2 L1008.7 1857.1 L1009.2 1857.6 L1009.7 1858.9 L1010.2 1860.8 L1010.7 1863.3 L1011.2 1866.4 L1011.7 1870 L1012.2 1874.1 L1012.7 1878.6 L1013.2 1883.4 L1013.7 1888.6 L1014.2 1894 L1014.7 1899.4 L1015.2 1904.7 L1015.7 1909.7 L1016.2 1914.1 L1016.7 1917.6 L1017.2 1919.9 L1017.7 1920.8 L1018.2 1920.1 L1018.7 1918.3 L1019.2 1915.5 L1019.7 1911.9 L1020.2 1907.8 L1020.7 1903.3 L1021.2 1898.6 L1021.7 1893.9 L1022.2 1889.2 L1022.7 1884.6 L1023.2 1880.3 L1023.7 1876.2 L1024.2 1872.4 L1024.7 1869 L1025.2 1865.9 L1025.7 1863.3 L1026.2 1861 L1026.7 1859.3 L1027.2 1858 L1027.7 1857.2 L1028.2 1857 L1028.7 1857.6 L1029.2 1858.7 L1029.7 1860.6 L1030.2 1863 L1030.7 1866.1 L1031.2 1869.8 L1031.7 1874 L1032.2 1878.9 L1032.7 1884.4 L1033.2 1890.5 L1033.7 1897.3 L1034.2 1904.8 L1034.7 1912.9 L1035.2 1921.7 L1035.7 1931.1 L1036.2 1941.2 L1036.7 1951.7 L1037.2 1962.5 L1037.7 1973.3 L1038.2 1983.4 L1038.7 1992.1 L1039.2 1998.4 L1039.7 2001.3 L1040.2 2000.4 L1040.7 1996.8 L1041.2 1991 L1041.7 1983.7 L1042.2 1975.4 L1042.7 1966.7 L1043.2 1957.9 L1043.7 1949.3 L1044.2 1941 L1044.7 1933.1 L1045.2 1925.7 L1045.7 1918.8 L1046.2 1912.5 L1046.7 1906.7 L1047.2 1901.4 L1047.7 1896.7 L1048.2 1892.6 L1048.7 1888.9 L1049.2 1885.9 L1049.7 1883.3 L1050.2 1881.4 L1050.7 1880 L1051.2 1879.3 L1051.7 1879.2 L1052.2 1880.1 L1052.7 1882 L1053.2 1884.7 L1053.7 1888.2 L1054.2 1892.6 L1054.7 1897.7 L1055.2 1903.6 L1055.7 1910.2 L1056.2 1917.6 L1056.7 1925.6 L1057.2 1934.2 L1057.7 1943.3 L1058.2 1952.5 L1058.7 1961.4 L1059.2 1969.6 L1059.7 1976.4 L1060.2 1980.7 L1060.7 1981.8 L1061.2 1977.5 L1061.7 1968.3 L1062.2 1956 L1062.7 1942.4 L1063.2 1928.6 L1063.7 1915.3 L1064.2 1902.8 L1064.7 1891.2 L1065.2 1880.7 L1065.7 1871.1 L1066.2 1862.5 L1066.7 1854.8 L1067.2 1848.1 L1067.7 1842.1 L1068.2 1837 L1068.7 1832.6 L1069.2 1829.1 L1069.7 1826.4 L1070.2 1824.5 L1070.7 1823.4 L1071.2 1823.3 L1071.7 1824.3 L1072.2 1826.3 L1072.7 1829.2 L1073.2 1833.2 L1073.7 1838 L1074.2 1843.7 L1074.7 1850.3 L1075.2 1857.9 L1075.7 1866.4 L1076.2 1875.7 L1076.7 1886 L1077.2 1897 L1077.7 1908.5 L1078.2 1920 L1078.7 1931 L1079.2 1940.2 L1079.7 1946.3 L1080.2 1948 L1080.7 1944.5 L1081.2 1936.9 L1081.7 1926.6 L1082.2 1915.1 L1082.7 1903.2 L1083.2 1891.6 L1083.7 1880.6 L1084.2 1870.5 L1084.7 1861.3 L1085.2 1853 L1085.7 1845.6 L1086.2 1839.2 L1086.7 1833.8 L1087.2 1829.2 L1087.7 1825.6 L1088.2 1822.9 L1088.7 1821.2 L1089.2 1820.6 L1089.7 1821 L1090.2 1822 L1090.7 1823.6 L1091.2 1825.9 L1091.7 1828.9 L1092.2 1832.4 L1092.7 1836.5 L1093.2 1841.3 L1093.7 1846.8 L1094.2 1852.9 L1094.7 1859.8 L1095.2 1867.5 L1095.7 1876 L1096.2 1885.4 L1096.7 1895.8 L1097.2 1907.3 L1097.7 1920 L1098.2 1934 L1098.7 1949.3 L1099.2 1965.8 L1099.7 1983.3 L1100.2 2001 L1100.7 2017.2 L1101.2 2029.2 L1101.7 2033.9 L1102.2 2028.9 L1102.7 2016.1 L1103.2 1999.1 L1103.7 1981 L1104.2 1963.3 L1104.7 1946.8 L1105.2 1931.7 L1105.7 1918.1 L1106.2 1905.9 L1106.7 1895 L1107.2 1885.3 L1107.7 1876.8 L1108.2 1869.2 L1108.7 1862.6 L1109.2 1857 L1109.7 1852.2 L1110.2 1848.3 L1110.7 1845.2 L1111.2 1843 L1111.7 1841.8 L1112.2 1841.4 L1112.7 1842 L1113.2 1843.4 L1113.7 1845.6 L1114.2 1848.5 L1114.7 1852.2 L1115.2 1856.6 L1115.7 1861.8 L1116.2 1867.8 L1116.7 1874.7 L1117.2 1882.5 L1117.7 1891.3 L1118.2 1901.3 L1118.7 1912.6 L1119.2 1925.3 L1119.7 1939.8 L1120.2 1956.3 L1120.7 1975.3 L1121.2 1997.1 L1121.7 2022.5 L1122.2 2051.8 L1122.7 2084.6 L1123.2 2116.7 L1123.7 2135.9 L1124.2 2127.4 L1124.7 2097.9 L1125.2 2063.8 L1125.7 2032.2 L1126.2 2004.6 L1126.7 1980.8 L1127.2 1960.2 L1127.7 1942.2 L1128.2 1926.5 L1128.7 1912.5 L1129.2 1900.2 L1129.7 1889.2 L1130.2 1879.3 L1130.7 1870.5 L1131.2 1862.6 L1131.7 1855.5 L1132.2 1849.2 L1132.7 1843.6 L1133.2 1838.7 L1133.7 1834.5 L1134.2 1830.8 L1134.7 1827.8 L1135.2 1825.4 L1135.7 1823.6 L1136.2 1822.4 L1136.7 1821.9 L1137.2 1822.3 L1137.7 1823.7 L1138.2 1826.3 L1138.7 1829.8 L1139.2 1834.3 L1139.7 1839.8 L1140.2 1846.3 L1140.7 1853.9 L1141.2 1862.4 L1141.7 1872.1 L1142.2 1882.8 L1142.7 1894.6 L1143.2 1907.4 L1143.7 1920.8 L1144.2 1934.4 L1144.7 1947.1 L1145.2 1957.3 L1145.7 1963 L1146.2 1962.3 L1146.7 1954.1 L1147.2 1941 L1147.7 1925.6 L1148.2 1909.8 L1148.7 1894.7 L1149.2 1880.7 L1149.7 1867.9 L1150.2 1856.5 L1150.7 1846.3 L1151.2 1837.4 L1151.7 1829.6 L1152.2 1822.9 L1152.7 1817.3 L1153.2 1812.7 L1153.7 1809.1 L1154.2 1806.6 L1154.7 1805.3 L1155.2 1805.1 L1155.7 1805.9 L1156.2 1807.6 L1156.7 1810.2 L1157.2 1813.5 L1157.7 1817.7 L1158.2 1822.7 L1158.7 1828.5 L1159.2 1835.2 L1159.7 1842.7 L1160.2 1851.2 L1160.7 1860.7 L1161.2 1871.2 L1161.7 1882.8 L1162.2 1895.4 L1162.7 1909 L1163.2 1923.3 L1163.7 1937.7 L1164.2 1951.1 L1164.7 1962 L1165.2 1968.2 L1165.7 1967.7 L1166.2 1960.5 L1166.7 1948.8 L1167.2 1934.8 L1167.7 1920.2 L1168.2 1906 L1168.7 1892.7 L1169.2 1880.5 L1169.7 1869.5 L1170.2 1859.7 L1170.7 1851 L1171.2 1843.4 L1171.7 1836.9 L1172.2 1831.4 L1172.7 1826.9 L1173.2 1823.4 L1173.7 1820.9 L1174.2 1819.6 L1174.7 1819.4 L1175.2 1820 L1175.7 1821.5 L1176.2 1823.6 L1176.7 1826.4 L1177.2 1830 L1177.7 1834.2 L1178.2 1839.1 L1178.7 1844.7 L1179.2 1851.1 L1179.7 1858.3 L1180.2 1866.3 L1180.7 1875.3 L1181.2 1885.3 L1181.7 1896.3 L1182.2 1908.5 L1182.7 1922 L1183.2 1936.7 L1183.7 1952.6 L1184.2 1969.4 L1184.7 1986.3 L1185.2 2001.8 L1185.7 2013.5 L1186.2 2018.3 L1186.7 2014 L1187.2 2001.8 L1187.7 1985.3 L1188.2 1967.2 L1188.7 1949.2 L1189.2 1932.2 L1189.7 1916.6 L1190.2 1902.2 L1190.7 1889.2 L1191.2 1877.4 L1191.7 1866.7 L1192.2 1856.9 L1192.7 1848.2 L1193.2 1840.2 L1193.7 1833 L1194.2 1826.6 L1194.7 1820.8 L1195.2 1815.7 L1195.7 1811.2 L1196.2 1807.2 L1196.7 1803.9 L1197.2 1801.1 L1197.7 1798.9 L1198.2 1797.3 L1198.7 1796.3 L1199.2 1795.9 L1199.7 1796.4 L1200.2 1798.1 L1200.7 1800.7 L1201.2 1804.4 L1201.7 1809.1 L1202.2 1814.7 L1202.7 1821.3 L1203.2 1828.9 L1203.7 1837.5 L1204.2 1847.2 L1204.7 1858 L1205.2 1869.8 L1205.7 1882.4 L1206.2 1895.6 L1206.7 1908.8 L1207.2 1920.8 L1207.7 1930.2 L1208.2 1934.8 L1208.7 1933.5 L1209.2 1926.9 L1209.7 1916.8 L1210.2 1904.8 L1210.7 1892.1 L1211.2 1879.7 L1211.7 1867.8 L1212.2 1856.9 L1212.7 1846.9 L1213.2 1837.9 L1213.7 1829.9 L1214.2 1822.9 L1214.7 1816.9 L1215.2 1811.8 L1215.7 1807.7 L1216.2 1804.5 L1216.7 1802.4 L1217.2 1801.3 L1217.7 1801.2 L1218.2 1801.8 L1218.7 1803 L1219.2 1804.8 L1219.7 1807.1 L1220.2 1809.9 L1220.7 1813.2 L1221.2 1817 L1221.7 1821.4 L1222.2 1826.3 L1222.7 1831.8 L1223.2 1837.8 L1223.7 1844.4 L1224.2 1851.7 L1224.7 1859.6 L1225.2 1868.2 L1225.7 1877.5 L1226.2 1887.4 L1226.7 1898.1 L1227.2 1909.3 L1227.7 1920.9 L1228.2 1932.5 L1228.7 1943.8 L1229.2 1953.7 L1229.7 1961.5 L1230.2 1965.7 L1230.7 1964.8 L1231.2 1954.8 L1231.7 1938.9 L1232.2 1921 L1232.7 1903.4 L1233.2 1887 L1233.7 1872.2 L1234.2 1859.2 L1234.7 1847.8 L1235.2 1838.1 L1235.7 1829.8 L1236.2 1823.1 L1236.7 1817.7 L1237.2 1813.7 L1237.7 1811.2 L1238.2 1810.2 L1238.7 1810.5 L1239.2 1811.2 L1239.7 1812.5 L1240.2 1814.2 L1240.7 1816.4 L1241.2 1819 L1241.7 1822 L1242.2 1825.5 L1242.7 1829.3 L1243.2 1833.4 L1243.7 1838 L1244.2 1842.8 L1244.7 1847.9 L1245.2 1853.3 L1245.7 1858.8 L1246.2 1864.4 L1246.7 1870 L1247.2 1875.5 L1247.7 1880.6 L1248.2 1885.2 L1248.7 1889 L1249.2 1891.8 L1249.7 1893.3 L1250.2 1893.2 L1250.7 1891.3 L1251.2 1887.9 L1251.7 1883.3 L1252.2 1878 L1252.7 1872.2 L1253.2 1866.2 L1253.7 1860.2 L1254.2 1854.4 L1254.7 1848.9 L1255.2 1843.8 L1255.7 1839.2 L1256.2 1835 L1256.7 1831.4 L1257.2 1828.4 L1257.7 1826.1 L1258.2 1824.4 L1258.7 1823.4 L1259.2 1823.2 L1259.7 1823.4 L1260.2 1823.8 L1260.7 1824.5 L1261.2 1825.3 L1261.7 1826.3 L1262.2 1827.5 L1262.7 1828.9 L1263.2 1830.4 L1263.7 1832.1 L1264.2 1833.9 L1264.7 1835.9 L1265.2 1838 L1265.7 1840.2 L1266.2 1842.5 L1266.7 1844.9 L1267.2 1847.4 L1267.7 1849.9 L1268.2 1852.5 L1268.7 1855.2 L1269.2 1857.8 L1269.7 1860.4 L1270.2 1862.9 L1270.7 1865.3 L1271.2 1867.6 L1271.7 1869.8 L1272.2 1871.7 L1272.7 1873.4 L1273.2 1874.7 L1273.7 1875.7 L1274.2 1876.4 L1274.7 1876.5 L1275.2 1875.8 L1275.7 1874 L1276.2 1871.3 L1276.7 1868 L1277.2 1864.1 L1277.7 1860 L1278.2 1855.8 L1278.7 1851.5 L1279.2 1847.4 L1279.7 1843.4 L1280.2 1839.8 L1280.7 1836.4 L1281.2 1833.5 L1281.7 1830.9 L1282.2 1828.8 L1282.7 1827.3 L1283.2 1826.2 L1283.7 1825.8 L1284.2 1826.1 L1284.7 1827 L1285.2 1828.6 L1285.7 1830.8 L1286.2 1833.5 L1286.7 1836.8 L1287.2 1840.7 L1287.7 1845.1 L1288.2 1850.1 L1288.7 1855.7 L1289.2 1861.8 L1289.7 1868.5 L1290.2 1875.8 L1290.7 1883.7 L1291.2 1892.1 L1291.7 1900.9 L1292.2 1910.1 L1292.7 1919.5 L1293.2 1928.8 L1293.7 1937.5 L1294.2 1945.1 L1294.7 1950.9 L1295.2 1954.1 L1295.7 1954.1 L1296.2 1950.1 L1296.7 1943 L1297.2 1933.8 L1297.7 1923.5 L1298.2 1912.8 L1298.7 1902.3 L1299.2 1892.1 L1299.7 1882.6 L1300.2 1873.7 L1300.7 1865.6 L1301.2 1858.2 L1301.7 1851.5 L1302.2 1845.6 L1302.7 1840.4 L1303.2 1835.9 L1303.7 1832.2 L1304.2 1829.1 L1304.7 1826.8 L1305.2 1825.3 L1305.7 1824.6 L1306.2 1824.7 L1306.7 1825.5 L1307.2 1827 L1307.7 1829.2 L1308.2 1831.9 L1308.7 1835.2 L1309.2 1839 L1309.7 1843.3 L1310.2 1848.2 L1310.7 1853.6 L1311.2 1859.3 L1311.7 1865.6 L1312.2 1872.1 L1312.7 1878.9 L1313.2 1885.8 L1313.7 1892.6 L1314.2 1899.1 L1314.7 1904.9 L1315.2 1909.6 L1315.7 1912.9 L1316.2 1914.2 L1316.7 1913.2 L1317.2 1909.5 L1317.7 1903.9 L1318.2 1896.9 L1318.7 1889.2 L1319.2 1881.2 L1319.7 1873.2 L1320.2 1865.6 L1320.7 1858.4 L1321.2 1851.7 L1321.7 1845.7 L1322.2 1840.3 L1322.7 1835.5 L1323.2 1831.5 L1323.7 1828.3 L1324.2 1825.8 L1324.7 1824.1 L1325.2 1823.3 L1325.7 1823.4 L1326.2 1824 L1326.7 1825.3 L1327.2 1827 L1327.7 1829.2 L1328.2 1831.9 L1328.7 1835.1 L1329.2 1838.6 L1329.7 1842.7 L1330.2 1847.1 L1330.7 1851.9 L1331.2 1857.2 L1331.7 1862.8 L1332.2 1868.7 L1332.7 1874.8 L1333.2 1881.2 L1333.7 1887.6 L1334.2 1894 L1334.7 1900.1 L1335.2 1905.7 L1335.7 1910.5 L1336.2 1914.1 L1336.7 1916.3 L1337.2 1916.8 L1337.7 1915.3 L1338.2 1912.1 L1338.7 1907.5 L1339.2 1901.9 L1339.7 1895.8 L1340.2 1889.3 L1340.7 1882.7 L1341.2 1876.2 L1341.7 1870 L1342.2 1864.1 L1342.7 1858.5 L1343.2 1853.4 L1343.7 1848.8 L1344.2 1844.6 L1344.7 1841 L1345.2 1837.8 L1345.7 1835.3 L1346.2 1833.3 L1346.7 1831.9 L1347.2 1831.1 L1347.7 1831.1 L1348.2 1831.6 L1348.7 1832.7 L1349.2 1834.3 L1349.7 1836.4 L1350.2 1839 L1350.7 1842 L1351.2 1845.4 L1351.7 1849.3 L1352.2 1853.5 L1352.7 1858.2 L1353.2 1863.2 L1353.7 1868.6 L1354.2 1874.3 L1354.7 1880.3 L1355.2 1886.4 L1355.7 1892.6 L1356.2 1898.8 L1356.7 1904.8 L1357.2 1910.3 L1357.7 1915.1 L1358.2 1918.8 L1358.7 1921.2 L1359.2 1922.1 L1359.7 1920.6 L1360.2 1916.8 L1360.7 1911.2 L1361.2 1904.4 L1361.7 1896.8 L1362.2 1888.9 L1362.7 1881 L1363.2 1873.3 L1363.7 1866 L1364.2 1859 L1364.7 1852.6 L1365.2 1846.7 L1365.7 1841.3 L1366.2 1836.6 L1366.7 1832.4 L1367.2 1828.8 L1367.7 1825.8 L1368.2 1823.5 L1368.7 1821.8 L1369.2 1820.9 L1369.7 1820.6 L1370.2 1821.2 L1370.7 1822.5 L1371.2 1824.4 L1371.7 1826.9 L1372.2 1830 L1372.7 1833.7 L1373.2 1837.7 L1373.7 1842.3 L1374.2 1847.1 L1374.7 1852.3 L1375.2 1857.7 L1375.7 1863.1 L1376.2 1868.4 L1376.7 1873.4 L1377.2 1877.8 L1377.7 1881.3 L1378.2 1883.6 L1378.7 1884.3 L1379.2 1883.9 L1379.7 1882.6 L1380.2 1880.7 L1380.7 1878.2 L1381.2 1875.3 L1381.7 1872 L1382.2 1868.6 L1382.7 1865.1 L1383.2 1861.6 L1383.7 1858.1 L1384.2 1854.7 L1384.7 1851.6 L1385.2 1848.6 L1385.7 1845.8 L1386.2 1843.4 L1386.7 1841.3 L1387.2 1839.5 L1387.7 1838 L1388.2 1837 L1388.7 1836.4 L1389.2 1836.2 L1389.7 1836.5 L1390.2 1837.2 L1390.7 1838.2 L1391.2 1839.5 L1391.7 1841.1 L1392.2 1843 L1392.7 1845.1 L1393.2 1847.5 L1393.7 1850.1 L1394.2 1852.9 L1394.7 1855.8 L1395.2 1858.9 L1395.7 1862.1 L1396.2 1865.3 L1396.7 1868.5 L1397.2 1871.7 L1397.7 1874.7 L1398.2 1877.6 L1398.7 1880.1 L1399.2 1882.3 L1399.7 1884 L1400.2 1885.1 L1400.7 1885.6 L1401.2 1885.4 L1401.7 1884.6 L1402.2 1883.3 L1402.7 1881.6 L1403.2 1879.5 L1403.7 1877.1 L1404.2 1874.4 L1404.7 1871.7 L1405.2 1868.8 L1405.7 1866 L1406.2 1863.1 L1406.7 1860.3 L1407.2 1857.6 L1407.7 1855 L1408.2 1852.6 L1408.7 1850.4 L1409.2 1848.3 L1409.7 1846.5 L1410.2 1844.9 L1410.7 1843.6 L1411.2 1842.6 L1411.7 1841.9 L1412.2 1841.5 L1412.7 1841.5 L1413.2 1841.8 L1413.7 1842.4 L1414.2 1843.3 L1414.7 1844.5 L1415.2 1845.9 L1415.7 1847.5 L1416.2 1849.4 L1416.7 1851.4 L1417.2 1853.6 L1417.7 1855.9 L1418.2 1858.4 L1418.7 1861 L1419.2 1863.6 L1419.7 1866.2 L1420.2 1868.8 L1420.7 1871.3 L1421.2 1873.7 L1421.7 1875.9 L1422.2 1877.8 L1422.7 1879.4 L1423.2 1880.7 L1423.7 1881.5 L1424.2 1881.7 L1424.7 1881.5 L1425.2 1880.6 L1425.7 1879.3 L1426.2 1877.5 L1426.7 1875.4 L1427.2 1872.9 L1427.7 1870.2 L1428.2 1867.4 L1428.7 1864.3 L1429.2 1861.2 L1429.7 1858.1 L1430.2 1854.9 L1430.7 1851.8 L1431.2 1848.7 L1431.7 1845.6 L1432.2 1842.7 L1432.7 1839.9 L1433.2 1837.2 L1433.7 1834.6 L1434.2 1832.2 L1434.7 1830 L1435.2 1827.9 L1435.7 1826 L1436.2 1824.3 L1436.7 1822.7 L1437.2 1821.4 L1437.7 1820.3 L1438.2 1819.3 L1438.7 1818.7 L1439.2 1818.2 L1439.7 1818 L1440.2 1818.2 L1440.7 1819 L1441.2 1820.4 L1441.7 1822.3 L1442.2 1824.7 L1442.7 1827.4 L1443.2 1830.6 L1443.7 1834.1 L1444.2 1837.9 L1444.7 1841.9 L1445.2 1846 L1445.7 1850.1 L1446.2 1854.2 L1446.7 1858 L1447.2 1861.4 L1447.7 1864.3 L1448.2 1866.3 L1448.7 1867.3 L1449.2 1867.3 L1449.7 1866.2 L1450.2 1864.4 L1450.7 1862 L1451.2 1859.2 L1451.7 1856 L1452.2 1852.8 L1452.7 1849.5 L1453.2 1846.3 L1453.7 1843.4 L1454.2 1840.7 L1454.7 1838.3 L1455.2 1836.4 L1455.7 1834.9 L1456.2 1834 L1456.7 1833.6 L1457.2 1834 L1457.7 1835 L1458.2 1836.6 L1458.7 1838.8 L1459.2 1841.6 L1459.7 1844.9 L1460.2 1848.7 L1460.7 1852.9 L1461.2 1857.7 L1461.7 1862.9 L1462.2 1868.4 L1462.7 1874.3 L1463.2 1880.5 L1463.7 1886.8 L1464.2 1893.1 L1464.7 1899.3 L1465.2 1905 L1465.7 1909.9 L1466.2 1913.8 L1466.7 1916.2 L1467.2 1916.8 L1467.7 1912.8 L1468.2 1904.6 L1468.7 1894.2 L1469.2 1883.3 L1469.7 1872.9 L1470.2 1863.6 L1470.7 1855.9 L1471.2 1849.9 L1471.7 1845.9 L1472.2 1844.1 L1472.7 1844.7 L1473.2 1847.6 L1473.7 1852.4 L1474.2 1859.2 L1474.7 1868 L1475.2 1878.8 L1475.7 1891.7 L1476.2 1906.8 L1476.7 1924 L1477.2 1942.9 L1477.7 1962.3 L1478.2 1979 L1478.7 1988 L1479.2 1983.5 L1479.7 1966.1 L1480.2 1943.2 L1480.7 1919.9 L1481.2 1898.2 L1481.7 1878.9 L1482.2 1861.8 L1482.7 1846.9 L1483.2 1833.8 L1483.7 1822.5 L1484.2 1812.7 L1484.7 1804.3 L1485.2 1797.1 L1485.7 1791.2 L1486.2 1786.4 L1486.7 1782.8 L1487.2 1780.4 L1487.7 1779.1 L1488.2 1779.1 L1488.7 1779.6 L1489.2 1780.6 L1489.7 1782 L1490.2 1783.9 L1490.7 1786.2 L1491.2 1788.8 L1491.7 1791.9 L1492.2 1795.5 L1492.7 1799.4 L1493.2 1803.8 L1493.7 1808.6 L1494.2 1813.8 L1494.7 1819.5 L1495.2 1825.7 L1495.7 1832.3 L1496.2 1839.5 L1496.7 1847.2 L1497.2 1855.4 L1497.7 1864 L1498.2 1873.1 L1498.7 1882.6 L1499.2 1892.2 L1499.7 1901.9 L1500.2 1911.2 L1500.7 1919.7 L1501.2 1926.8 L1501.7 1931.8 L1502.2 1933.9 L1502.7 1931.8 L1503.2 1924.2 L1503.7 1912.7 L1504.2 1899.1 L1504.7 1884.8 L1505.2 1870.7 L1505.7 1857.1 L1506.2 1844.4 L1506.7 1832.5 L1507.2 1821.5 L1507.7 1811.4 L1508.2 1802.2 L1508.7 1793.7 L1509.2 1785.9 L1509.7 1778.9 L1510.2 1772.4 L1510.7 1766.6 L1511.2 1761.3 L1511.7 1756.6 L1512.2 1752.4 L1512.7 1748.7 L1513.2 1745.6 L1513.7 1742.9 L1514.2 1740.8 L1514.7 1739.1 L1515.2 1738 L1515.7 1737.4 L1516.2 1737.4 L1516.7 1737.5 L1517.2 1737.8 L1517.7 1738.2 L1518.2 1738.8 L1518.7 1739.4 L1519.2 1740.2 L1519.7 1741 L1520.2 1741.9 L1520.7 1742.9 L1521.2 1743.9 L1521.7 1744.9 L1522.2 1746 L1522.7 1747.1 L1523.2 1748.2 L1523.7 1749.2 L1524.2 1750.2 L1524.7 1751.2 L1525.2 1752.1 L1525.7 1753 L1526.2 1753.7 L1526.7 1754.3 L1527.2 1754.7 L1527.7 1755 L1528.2 1755.1 L1528.7 1755 L1529.2 1754.5 L1529.7 1753.8 L1530.2 1752.8 L1530.7 1751.6 L1531.2 1750.2 L1531.7 1748.7 L1532.2 1747 L1532.7 1745.2 L1533.2 1743.3 L1533.7 1741.3 L1534.2 1739.3 L1534.7 1737.3 L1535.2 1735.3 L1535.7 1733.3 L1536.2 1731.3 L1536.7 1729.3 L1537.2 1727.4 L1537.7 1725.6 L1538.2 1723.8 L1538.7 1722.1 L1539.2 1720.6 L1539.7 1719.1 L1540.2 1717.7 L1540.7 1716.4 L1541.2 1715.3 L1541.7 1714.3 L1542.2 1713.4 L1542.7 1712.7 L1543.2 1712.1 L1543.7 1711.7 L1544.2 1711.5 L1544.7 1711.4 L1545.2 1711.7 L1545.7 1712.4 L1546.2 1713.4 L1546.7 1714.9 L1547.2 1716.6 L1547.7 1718.8 L1548.2 1721.3 L1548.7 1724.2 L1549.2 1727.4 L1549.7 1731 L1550.2 1734.9 L1550.7 1739.3 L1551.2 1744.1 L1551.7 1749.2 L1552.2 1754.9 L1552.7 1761 L1553.2 1767.6 L1553.7 1774.7 L1554.2 1782.4 L1554.7 1790.7 L1555.2 1799.6 L1555.7 1809.3 L1556.2 1819.6 L1556.7 1830.7 L1557.2 1842.5 L1557.7 1855 L1558.2 1868 L1558.7 1881.2 L1559.2 1894.1 L1559.7 1905.9 L1560.2 1915.2 L1560.7 1920.7 L1561.2 1921.1 L1561.7 1915 L1562.2 1903.9 L1562.7 1890 L1563.2 1875 L1563.7 1860 L1564.2 1845.7 L1564.7 1832.3 L1565.2 1819.9 L1565.7 1808.6 L1566.2 1798.2 L1566.7 1788.8 L1567.2 1780.2 L1567.7 1772.5 L1568.2 1765.5 L1568.7 1759.3 L1569.2 1753.7 L1569.7 1748.8 L1570.2 1744.5 L1570.7 1740.8 L1571.2 1737.8 L1571.7 1735.4 L1572.2 1733.5 L1572.7 1732.4 L1573.2 1731.9 L1573.7 1732.1 L1574.2 1733 L1574.7 1734.5 L1575.2 1736.6 L1575.7 1739.4 L1576.2 1742.6 L1576.7 1746.5 L1577.2 1751 L1577.7 1756 L1578.2 1761.7 L1578.7 1768 L1579.2 1775 L1579.7 1782.6 L1580.2 1791 L1580.7 1800.1 L1581.2 1810 L1581.7 1820.7 L1582.2 1832 L1582.7 1843.9 L1583.2 1856.2 L1583.7 1868.2 L1584.2 1879.4 L1584.7 1888.5 L1585.2 1894.3 L1585.7 1895.6 L1586.2 1892.4 L1586.7 1885.7 L1587.2 1876.5 L1587.7 1865.9 L1588.2 1854.7 L1588.7 1843.5 L1589.2 1832.5 L1589.7 1822.1 L1590.2 1812.4 L1590.7 1803.3 L1591.2 1794.8 L1591.7 1787.1 L1592.2 1780 L1592.7 1773.6 L1593.2 1767.8 L1593.7 1762.5 L1594.2 1757.9 L1594.7 1753.8 L1595.2 1750.3 L1595.7 1747.4 L1596.2 1745 L1596.7 1743.2 L1597.2 1742 L1597.7 1741.5 L1598.2 1741.7 L1598.7 1743 L1599.2 1745.3 L1599.7 1748.6 L1600.2 1752.7 L1600.7 1757.7 L1601.2 1763.5 L1601.7 1770 L1602.2 1777.2 L1602.7 1785 L1603.2 1793.2 L1603.7 1801.5 L1604.2 1809.7 L1604.7 1817 L1605.2 1822.9 L1605.7 1826.6 L1606.2 1827.3 L1606.7 1823.8 L1607.2 1816.7 L1607.7 1807.4 L1608.2 1797 L1608.7 1786.4 L1609.2 1776 L1609.7 1766.3 L1610.2 1757.3 L1610.7 1749.3 L1611.2 1742.2 L1611.7 1736 L1612.2 1730.9 L1612.7 1726.8 L1613.2 1723.7 L1613.7 1721.7 L1614.2 1721 L1614.7 1721.4 L1615.2 1722.7 L1615.7 1725 L1616.2 1728.2 L1616.7 1732.1 L1617.2 1736.9 L1617.7 1742.5 L1618.2 1748.9 L1618.7 1756.1 L1619.2 1764.2 L1619.7 1773 L1620.2 1782.6 L1620.7 1792.9 L1621.2 1803.6 L1621.7 1814.5 L1622.2 1824.8 L1622.7 1833.9 L1623.2 1840.6 L1623.7 1843.7 L1624.2 1842.7 L1624.7 1838.1 L1625.2 1831.1 L1625.7 1822.5 L1626.2 1813.2 L1626.7 1803.8 L1627.2 1794.7 L1627.7 1786.2 L1628.2 1778.4 L1628.7 1771.4 L1629.2 1765.2 L1629.7 1759.9 L1630.2 1755.6 L1630.7 1752.2 L1631.2 1749.8 L1631.7 1748.5 L1632.2 1748.3 L1632.7 1748.8 L1633.2 1749.9 L1633.7 1751.5 L1634.2 1753.5 L1634.7 1756.1 L1635.2 1759.2 L1635.7 1762.7 L1636.2 1766.8 L1636.7 1771.3 L1637.2 1776.4 L1637.7 1782 L1638.2 1788.3 L1638.7 1795.1 L1639.2 1802.5 L1639.7 1810.6 L1640.2 1819.4 L1640.7 1829 L1641.2 1839.3 L1641.7 1850.4 L1642.2 1862.2 L1642.7 1874.6 L1643.2 1887.5 L1643.7 1900.2 L1644.2 1912.2 L1644.7 1922.3 L1645.2 1929.1 L1645.7 1931.2 L1646.2 1928.9 L1646.7 1923.2 L1647.2 1915.1 L1647.7 1905.4 L1648.2 1895 L1648.7 1884.3 L1649.2 1873.9 L1649.7 1863.9 L1650.2 1854.4 L1650.7 1845.5 L1651.2 1837.2 L1651.7 1829.6 L1652.2 1822.6 L1652.7 1816.2 L1653.2 1810.4 L1653.7 1805.2 L1654.2 1800.6 L1654.7 1796.5 L1655.2 1793 L1655.7 1790 L1656.2 1787.6 L1656.7 1785.8 L1657.2 1784.5 L1657.7 1783.9 L1658.2 1783.9 L1658.7 1784.6 L1659.2 1785.9 L1659.7 1787.9 L1660.2 1790.4 L1660.7 1793.4 L1661.2 1796.9 L1661.7 1800.9 L1662.2 1805.3 L1662.7 1810 L1663.2 1815 L1663.7 1820.2 L1664.2 1825.5 L1664.7 1830.8 L1665.2 1835.8 L1665.7 1840.5 L1666.2 1844.4 L1666.7 1847.3 L1667.2 1849 L1667.7 1849.2 L1668.2 1848.1 L1668.7 1846 L1669.2 1843.1 L1669.7 1839.5 L1670.2 1835.5 L1670.7 1831.2 L1671.2 1826.8 L1671.7 1822.5 L1672.2 1818.2 L1672.7 1814.2 L1673.2 1810.4 L1673.7 1806.9 L1674.2 1803.8 L1674.7 1801 L1675.2 1798.7 L1675.7 1796.9 L1676.2 1795.6 L1676.7 1794.9 L1677.2 1794.7 L1677.7 1795.1 L1678.2 1796 L1678.7 1797.3 L1679.2 1799 L1679.7 1801.1 L1680.2 1803.7 L1680.7 1806.6 L1681.2 1809.9 L1681.7 1813.7 L1682.2 1817.8 L1682.7 1822.3 L1683.2 1827.2 L1683.7 1832.5 L1684.2 1838.2 L1684.7 1844.2 L1685.2 1850.7 L1685.7 1857.4 L1686.2 1864.5 L1686.7 1871.7 L1687.2 1879.1 L1687.7 1886.5 L1688.2 1893.6 L1688.7 1900.2 L1689.2 1906.1 L1689.7 1910.7 L1690.2 1913.7 L1690.7 1914.8 L1691.2 1913.4 L1691.7 1909.1 L1692.2 1902.9 L1692.7 1895.2 L1693.2 1886.9 L1693.7 1878.3 L1694.2 1869.8 L1694.7 1861.6 L1695.2 1854 L1695.7 1846.9 L1696.2 1840.4 L1696.7 1834.5 L1697.2 1829.4 L1697.7 1824.9 L1698.2 1821.1 L1698.7 1818.1 L1699.2 1815.9 L1699.7 1814.4 L1700.2 1813.8 L1700.7 1814.1 L1701.2 1815.1 L1701.7 1816.7 L1702.2 1819.1 L1702.7 1822 L1703.2 1825.5 L1703.7 1829.6 L1704.2 1834.3 L1704.7 1839.6 L1705.2 1845.5 L1705.7 1851.9 L1706.2 1858.9 L1706.7 1866.4 L1707.2 1874.4 L1707.7 1882.7 L1708.2 1891.3 L1708.7 1899.9 L1709.2 1908.1 L1709.7 1915.6 L1710.2 1921.6 L1710.7 1925.7 L1711.2 1927.1 L1711.7 1925.8 L1712.2 1922 L1712.7 1916.4 L1713.2 1909.4 L1713.7 1901.7 L1714.2 1893.7 L1714.7 1885.6 L1715.2 1877.6 L1715.7 1870 L1716.2 1862.8 L1716.7 1856.1 L1717.2 1849.9 L1717.7 1844.3 L1718.2 1839.2 L1718.7 1834.6 L1719.2 1830.6 L1719.7 1827.2 L1720.2 1824.3 L1720.7 1822.1 L1721.2 1820.5 L1721.7 1819.5 L1722.2 1819.3 L1722.7 1819.7 L1723.2 1820.7 L1723.7 1822.2 L1724.2 1824.2 L1724.7 1826.6 L1725.2 1829.5 L1725.7 1832.9 L1726.2 1836.7 L1726.7 1840.8 L1727.2 1845.3 L1727.7 1850.1 L1728.2 1855.2 L1728.7 1860.5 L1729.2 1866 L1729.7 1871.5 L1730.2 1876.9 L1730.7 1882.1 L1731.2 1886.7 L1731.7 1890.7 L1732.2 1893.6 L1732.7 1895.4 L1733.2 1895.6 L1733.7 1893.6 L1734.2 1889.7 L1734.7 1884.2 L1735.2 1877.9 L1735.7 1871.1 L1736.2 1864.2 L1736.7 1857.5 L1737.2 1851.1 L1737.7 1845.2 L1738.2 1839.8 L1738.7 1835.1 L1739.2 1831.2 L1739.7 1827.9 L1740.2 1825.5 L1740.7 1824 L1741.2 1823.4 L1741.7 1823.5 L1742.2 1824.1 L1742.7 1825.1 L1743.2 1826.4 L1743.7 1828 L1744.2 1830 L1744.7 1832.3 L1745.2 1834.9 L1745.7 1837.9 L1746.2 1841.2 L1746.7 1844.8 L1747.2 1848.7 L1747.7 1852.9 L1748.2 1857.4 L1748.7 1862.3 L1749.2 1867.5 L1749.7 1872.9 L1750.2 1878.7 L1750.7 1884.7 L1751.2 1890.9 L1751.7 1897.3 L1752.2 1903.8 L1752.7 1910.4 L1753.2 1916.8 L1753.7 1922.9 L1754.2 1928.5 L1754.7 1933.4 L1755.2 1937.2 L1755.7 1939.8 L1756.2 1940.8 L1756.7 1939 L1757.2 1933.3 L1757.7 1924.9 L1758.2 1915 L1758.7 1904.5 L1759.2 1894.1 L1759.7 1884.2 L1760.2 1875.1 L1760.7 1866.7 L1761.2 1859.3 L1761.7 1852.9 L1762.2 1847.4 L1762.7 1842.9 L1763.2 1839.4 L1763.7 1837.1 L1764.2 1835.8 L1764.7 1835.7 L1765.2 1836.5 L1765.7 1837.8 L1766.2 1839.8 L1766.7 1842.3 L1767.2 1845.5 L1767.7 1849.1 L1768.2 1853.3 L1768.7 1858.1 L1769.2 1863.3 L1769.7 1869.1 L1770.2 1875.3 L1770.7 1881.9 L1771.2 1889 L1771.7 1896.3 L1772.2 1903.8 L1772.7 1911.3 L1773.2 1918.5 L1773.7 1925.1 L1774.2 1930.6 L1774.7 1934.6 L1775.2 1936.6 L1775.7 1935.7 L1776.2 1931.1 L1776.7 1923.5 L1777.2 1914 L1777.7 1903.7 L1778.2 1893.1 L1778.7 1882.8 L1779.2 1873.1 L1779.7 1863.9 L1780.2 1855.6 L1780.7 1848 L1781.2 1841.2 L1781.7 1835.3 L1782.2 1830.1 L1782.7 1825.7 L1783.2 1822.2 L1783.7 1819.5 L1784.2 1817.6 L1784.7 1816.6 L1785.2 1816.6 L1785.7 1817.2 L1786.2 1818.2 L1786.7 1819.7 L1787.2 1821.7 L1787.7 1824.1 L1788.2 1826.9 L1788.7 1830.1 L1789.2 1833.7 L1789.7 1837.7 L1790.2 1842.1 L1790.7 1846.8 L1791.2 1851.9 L1791.7 1857.2 L1792.2 1862.9 L1792.7 1868.7 L1793.2 1874.7 L1793.7 1880.8 L1794.2 1886.8 L1794.7 1892.6 L1795.2 1897.9 L1795.7 1902.5 L1796.2 1906.1 L1796.7 1908.5 L1797.2 1909.4 L1797.7 1908.3 L1798.2 1905 L1798.7 1900.2 L1799.2 1894.2 L1799.7 1887.7 L1800.2 1881 L1800.7 1874.3 L1801.2 1867.8 L1801.7 1861.9 L1802.2 1856.4 L1802.7 1851.5 L1803.2 1847.4 L1803.7 1843.9 L1804.2 1841.2 L1804.7 1839.4 L1805.2 1838.5 L1805.7 1838.5 L1806.2 1838.9 L1806.7 1839.6 L1807.2 1840.7 L1807.7 1842.2 L1808.2 1843.9 L1808.7 1845.9 L1809.2 1848.3 L1809.7 1850.9 L1810.2 1853.8 L1810.7 1857.1 L1811.2 1860.5 L1811.7 1864.3 L1812.2 1868.4 L1812.7 1872.7 L1813.2 1877.2 L1813.7 1882 L1814.2 1887 L1814.7 1892.3 L1815.2 1897.7 L1815.7 1903.2 L1816.2 1908.7 L1816.7 1914.2 L1817.2 1919.6 L1817.7 1924.8 L1818.2 1929.5 L1818.7 1933.7 L1819.2 1937 L1819.7 1939.4 L1820.2 1940.7 L1820.7 1940.2 L1821.2 1936.5 L1821.7 1930.1 L1822.2 1922 L1822.7 1912.9 L1823.2 1903.7 L1823.7 1894.7 L1824.2 1886.1 L1824.7 1878.2 L1825.2 1871.1 L1825.7 1864.8 L1826.2 1859.3 L1826.7 1854.8 L1827.2 1851.2 L1827.7 1848.6 L1828.2 1847 L1828.7 1846.6 L1829.2 1846.9 L1829.7 1847.6 L1830.2 1848.7 L1830.7 1850.1 L1831.2 1851.9 L1831.7 1854 L1832.2 1856.4 L1832.7 1859.1 L1833.2 1862.1 L1833.7 1865.4 L1834.2 1868.8 L1834.7 1872.5 L1835.2 1876.4 L1835.7 1880.4 L1836.2 1884.5 L1836.7 1888.6 L1837.2 1892.7 L1837.7 1896.7 L1838.2 1900.5 L1838.7 1904 L1839.2 1907 L1839.7 1909.4 L1840.2 1911.2 L1840.7 1912 L1841.2 1911.7 L1841.7 1909.1 L1842.2 1904.7 L1842.7 1899 L1843.2 1892.5 L1843.7 1885.7 L1844.2 1878.8 L1844.7 1872.1 L1845.2 1865.8 L1845.7 1860.1 L1846.2 1854.9 L1846.7 1850.4 L1847.2 1846.6 L1847.7 1843.6 L1848.2 1841.4 L1848.7 1840.1 L1849.2 1839.8 L1849.7 1840 L1850.2 1840.5 L1850.7 1841.3 L1851.2 1842.4 L1851.7 1843.7 L1852.2 1845.2 L1852.7 1847 L1853.2 1849.1 L1853.7 1851.3 L1854.2 1853.8 L1854.7 1856.4 L1855.2 1859.3 L1855.7 1862.3 L1856.2 1865.5 L1856.7 1868.8 L1857.2 1872.3 L1857.7 1875.9 L1858.2 1879.6 L1858.7 1883.4 L1859.2 1887.1 L1859.7 1890.9 L1860.2 1894.6 L1860.7 1898.1 L1861.2 1901.4 L1861.7 1904.4 L1862.2 1907.1 L1862.7 1909.3 L1863.2 1910.9 L1863.7 1911.9 L1864.2 1912.1 L1864.7 1911.1 L1865.2 1908.8 L1865.7 1905.4 L1866.2 1901.3 L1866.7 1896.7 L1867.2 1891.9 L1867.7 1887 L1868.2 1882.3 L1868.7 1877.9 L1869.2 1873.7 L1869.7 1870 L1870.2 1866.9 L1870.7 1864.2 L1871.2 1862.2 L1871.7 1860.9 L1872.2 1860.3 L1872.7 1860.4 L1873.2 1861.1 L1873.7 1862.3 L1874.2 1863.9 L1874.7 1866 L1875.2 1868.5 L1875.7 1871.4 L1876.2 1874.7 L1876.7 1878.3 L1877.2 1882.2 L1877.7 1886.4 L1878.2 1890.9 L1878.7 1895.5 L1879.2 1900.2 L1879.7 1905 L1880.2 1909.6 L1880.7 1914.1 L1881.2 1918.2 L1881.7 1921.8 L1882.2 1924.6 L1882.7 1926.4 L1883.2 1927.1 L1883.7 1926.6 L1884.2 1925 L1884.7 1922.5 L1885.2 1919.2 L1885.7 1915.4 L1886.2 1911.2 L1886.7 1906.8 L1887.2 1902.2 L1887.7 1897.7 L1888.2 1893.2 L1888.7 1888.9 L1889.2 1884.9 L1889.7 1881 L1890.2 1877.5 L1890.7 1874.3 L1891.2 1871.4 L1891.7 1868.9 L1892.2 1866.8 L1892.7 1865.2 L1893.2 1863.9 L1893.7 1863.2 L1894.2 1863 L1894.7 1863 L1895.2 1863 L1895.7 1863 L1896.2 1863 L1896.7 1863.1 L1897.2 1863.2 L1897.7 1863.4 L1898.2 1863.6 L1898.7 1863.9 L1899.2 1864.2 L1899.7 1864.6 L1900.2 1865.1 L1900.7 1865.7 L1901.2 1866.4 L1901.7 1867.2 L1902.2 1868.1 L1902.7 1869.2 L1903.2 1870.4 L1903.7 1871.8 L1904.2 1873.4 L1904.7 1875.1" fill="none" stroke="#ff0000" stroke-width="13.2" stroke-linejoin="round"/>
<path d="M293.5 1876.3 L294 1876.1 L294.5 1875.9 L295 1875.8 L295.5 1875.6 L296 1875.5 L296.5 1875.3 L297 1875.2 L297.5 1875.1 L298 1875 L298.5 1874.9 L299 1874.9 L299.5 1874.8 L300 1874.8 L300.5 1874.7 L301 1874.7 L301.5 1874.7 L302 1874.6 L302.5 1874.6 L303 1874.6 L303.5 1874.6 L304 1874.6 L304.5 1874.6 L305 1874.6 L305.5 1874.6 L306 1874.6 L306.5 1874.7 L307 1874.9 L307.5 1875.1 L308 1875.5 L308.5 1875.9 L309 1876.4 L309.5 1876.9 L310 1877.6 L310.5 1878.2 L311 1879 L311.5 1879.7 L312 1880.5 L312.5 1881.4 L313 1882.3 L313.5 1883.1 L314 1884.1 L314.5 1885 L315 1886.1 L315.5 1887.5 L316 1889.2 L316.5 1891.2 L317 1893.5 L317.5 1896 L318 1898.6 L318.5 1901.4 L319 1904.3 L319.5 1907.2 L320 1910.1 L320.5 1912.8 L321 1915.4 L321.5 1917.7 L322 1919.6 L322.5 1921 L323 1921.8 L323.5 1921.9 L324 1921.1 L324.5 1919.2 L325 1916.6 L325.5 1913.5 L326 1909.9 L326.5 1906 L327 1902 L327.5 1897.9 L328 1894 L328.5 1890.2 L329 1886.6 L329.5 1883.3 L330 1880.3 L330.5 1877.6 L331 1875.4 L331.5 1873.6 L332 1872.2 L332.5 1871.4 L333 1871.1 L333.5 1871.3 L334 1872.1 L334.5 1873.2 L335 1874.8 L335.5 1876.6 L336 1878.7 L336.5 1881 L337 1883.4 L337.5 1885.9 L338 1888.4 L338.5 1890.8 L339 1893 L339.5 1894.9 L340 1896.3 L340.5 1897.2 L341 1897.4 L341.5 1896.4 L342 1894.3 L342.5 1891.4 L343 1887.9 L343.5 1884.2 L344 1880.4 L344.5 1876.8 L345 1873.6 L345.5 1870.8 L346 1868.7 L346.5 1867.2 L347 1866.7 L347.5 1867 L348 1867.9 L348.5 1869.3 L349 1871.2 L349.5 1873.3 L350 1875.7 L350.5 1878.1 L351 1880.3 L351.5 1882.4 L352 1884 L352.5 1884.9 L353 1885.1 L353.5 1884.7 L354 1884 L354.5 1883 L355 1881.8 L355.5 1880.4 L356 1878.9 L356.5 1877.4 L357 1875.9 L357.5 1874.5 L358 1873.2 L358.5 1872.1 L359 1871.2 L359.5 1870.5 L360 1870.2 L360.5 1870.3 L361 1870.8 L361.5 1871.9 L362 1873.3 L362.5 1875 L363 1876.9 L363.5 1879.1 L364 1881.3 L364.5 1883.6 L365 1885.7 L365.5 1887.7 L366 1889.3 L366.5 1890.5 L367 1891.2 L367.5 1891.2 L368 1890.7 L368.5 1889.9 L369 1888.7 L369.5 1887.3 L370 1885.8 L370.5 1884.2 L371 1882.6 L371.5 1881.1 L372 1879.7 L372.5 1878.5 L373 1877.5 L373.5 1876.8 L374 1876.4 L374.5 1876.4 L375 1877.1 L375.5 1878.5 L376 1880.5 L376.5 1882.9 L377 1885.7 L377.5 1888.9 L378 1892.3 L378.5 1895.9 L379 1899.4 L379.5 1902.8 L380 1905.9 L380.5 1908.4 L381 1910.9 L381.5 1913.6 L382 1916.4 L382.5 1919.2 L383 1922 L383.5 1924.6 L384 1926.9 L384.5 1928.7 L385 1930.1 L385.5 1930.7 L386 1930.6 L386.5 1929.8 L387 1928.3 L387.5 1926.4 L388 1924.1 L388.5 1921.4 L389 1918.6 L389.5 1915.7 L390 1912.7 L390.5 1909.8 L391 1906.9 L391.5 1904.2 L392 1901.7 L392.5 1898.5 L393 1894.9 L393.5 1891.1 L394 1887.2 L394.5 1883.4 L395 1880 L395.5 1876.9 L396 1874.4 L396.5 1872.6 L397 1871.4 L397.5 1871.1 L398 1871.4 L398.5 1872.3 L399 1873.6 L399.5 1875.2 L400 1877.1 L400.5 1879.3 L401 1881.6 L401.5 1883.9 L402 1886.3 L402.5 1888.4 L403 1890.3 L403.5 1891.8 L404 1892.7 L404.5 1893 L405 1892.7 L405.5 1891.9 L406 1890.8 L406.5 1889.4 L407 1887.7 L407.5 1885.8 L408 1883.9 L408.5 1881.9 L409 1880 L409.5 1878.2 L410 1876.4 L410.5 1874.9 L411 1873.5 L411.5 1872.5 L412 1871.6 L412.5 1871.2 L413 1871.1 L413.5 1871.2 L414 1871.4 L414.5 1871.8 L415 1872.3 L415.5 1872.8 L416 1873.5 L416.5 1874.2 L417 1875 L417.5 1875.8 L418 1876.7 L418.5 1877.5 L419 1878.4 L419.5 1879.2 L420 1880 L420.5 1880.8 L421 1881.7 L421.5 1882.6 L422 1883.5 L422.5 1884.5 L423 1885.6 L423.5 1886.6 L424 1887.7 L424.5 1888.8 L425 1890 L425.5 1891.2 L426 1892.4 L426.5 1893.8 L427 1895.2 L427.5 1896.6 L428 1898.1 L428.5 1899.6 L429 1901.2 L429.5 1902.8 L430 1904.4 L430.5 1906 L431 1907.7 L431.5 1909.3 L432 1910.9 L432.5 1912.4 L433 1914 L433.5 1915.6 L434 1917.2 L434.5 1918.8 L435 1920.4 L435.5 1922.1 L436 1923.7 L436.5 1925.4 L437 1927 L437.5 1928.7 L438 1930.3 L438.5 1932 L439 1933.6 L439.5 1935.2 L440 1937 L440.5 1938.9 L441 1940.8 L441.5 1942.9 L442 1945 L442.5 1947.2 L443 1949.4 L443.5 1951.7 L444 1953.9 L444.5 1956.2 L445 1958.4 L445.5 1960.5 L446 1962.5 L446.5 1964.4 L447 1966.2 L447.5 1967.7 L448 1969 L448.5 1970 L449 1970.7 L449.5 1971.1 L450 1971.1 L450.5 1970.9 L451 1970.4 L451.5 1969.7 L452 1968.8 L452.5 1967.7 L453 1966.4 L453.5 1965 L454 1963.4 L454.5 1961.6 L455 1959.8 L455.5 1957.8 L456 1955.7 L456.5 1953.5 L457 1951.3 L457.5 1949 L458 1945.9 L458.5 1940.9 L459 1934.6 L459.5 1927.9 L460 1921.4 L460.5 1915.7 L461 1910.9 L461.5 1907 L462 1903 L462.5 1899.1 L463 1895.4 L463.5 1892.1 L464 1889.3 L464.5 1887.1 L465 1885.7 L465.5 1885.1 L466 1885.3 L466.5 1885.8 L467 1886.6 L467.5 1887.6 L468 1888.8 L468.5 1890.2 L469 1891.7 L469.5 1893.2 L470 1894.6 L470.5 1896 L471 1897.2 L471.5 1898.2 L472 1898.9 L472.5 1899.2 L473 1899 L473.5 1898.5 L474 1897.6 L474.5 1896.4 L475 1895 L475.5 1893.5 L476 1891.7 L476.5 1889.9 L477 1888.1 L477.5 1886.2 L478 1884.3 L478.5 1882.5 L479 1880.8 L479.5 1879.1 L480 1877.7 L480.5 1876.3 L481 1875.2 L481.5 1874.2 L482 1873.5 L482.5 1873 L483 1872.8 L483.5 1872.9 L484 1873.2 L484.5 1873.8 L485 1874.6 L485.5 1875.6 L486 1876.8 L486.5 1878.1 L487 1879.5 L487.5 1881.1 L488 1882.8 L488.5 1884.5 L489 1886.3 L489.5 1888.1 L490 1890 L490.5 1891.8 L491 1894.1 L491.5 1896.7 L492 1899.6 L492.5 1902.6 L493 1905.8 L493.5 1909.1 L494 1912.4 L494.5 1915.5 L495 1918.3 L495.5 1920.7 L496 1923 L496.5 1925.3 L497 1927.5 L497.5 1929.7 L498 1931.8 L498.5 1933.9 L499 1935.9 L499.5 1937.9 L500 1939.9 L500.5 1941.7 L501 1943.5 L501.5 1945.3 L502 1947 L502.5 1948.6 L503 1950.2 L503.5 1951.9 L504 1953.6 L504.5 1955.4 L505 1957.1 L505.5 1958.9 L506 1960.7 L506.5 1962.5 L507 1964.3 L507.5 1966.1 L508 1967.9 L508.5 1969.6 L509 1971.3 L509.5 1972.9 L510 1974.4 L510.5 1975.9 L511 1977.3 L511.5 1978.5 L512 1979.6 L512.5 1980.5 L513 1981.3 L513.5 1981.9 L514 1982.3 L514.5 1982.5 L515 1982.3 L515.5 1981.2 L516 1979.1 L516.5 1976.3 L517 1973 L517.5 1969.4 L518 1965.6 L518.5 1961.7 L519 1957.9 L519.5 1954.2 L520 1950.7 L520.5 1947.5 L521 1944.7 L521.5 1942.2 L522 1940.2 L522.5 1938.3 L523 1936.5 L523.5 1934.8 L524 1933.2 L524.5 1931.6 L525 1930.1 L525.5 1928.5 L526 1927 L526.5 1925.3 L527 1923.7 L527.5 1922 L528 1920.3 L528.5 1918.6 L529 1916.9 L529.5 1915.2 L530 1913.5 L530.5 1911.8 L531 1910.1 L531.5 1908.3 L532 1906.6 L532.5 1904.9 L533 1903.1 L533.5 1901.3 L534 1899.2 L534.5 1896.9 L535 1894.5 L535.5 1892.1 L536 1889.6 L536.5 1887.2 L537 1885 L537.5 1882.8 L538 1880.8 L538.5 1879.1 L539 1877.6 L539.5 1876.3 L540 1875.4 L540.5 1874.8 L541 1874.6 L541.5 1874.7 L542 1875.1 L542.5 1875.8 L543 1876.7 L543.5 1877.9 L544 1879.2 L544.5 1880.7 L545 1882.4 L545.5 1884.3 L546 1886.2 L546.5 1888.3 L547 1890.5 L547.5 1892.7 L548 1894.9 L548.5 1897.2 L549 1899.3 L549.5 1901.4 L550 1903.4 L550.5 1905.5 L551 1907.8 L551.5 1910.3 L552 1912.9 L552.5 1915.7 L553 1918.7 L553.5 1921.8 L554 1925.2 L554.5 1928.7 L555 1932.4 L555.5 1936.4 L556 1940.5 L556.5 1944.9 L557 1949.4 L557.5 1954.2 L558 1959.2 L558.5 1964.4 L559 1969.8 L559.5 1975.5 L560 1981.3 L560.5 1987.4 L561 1993.6 L561.5 1999.9 L562 2006.4 L562.5 2012.9 L563 2019.3 L563.5 2025.7 L564 2031.7 L564.5 2037.4 L565 2042.4 L565.5 2046.6 L566 2049.8 L566.5 2051.8 L567 2052.4 L567.5 2049.4 L568 2041.9 L568.5 2031.6 L569 2019.7 L569.5 2007.5 L570 1995.6 L570.5 1984.4 L571 1974 L571.5 1964.5 L572 1956 L572.5 1948.5 L573 1941.9 L573.5 1936.3 L574 1931.6 L574.5 1927.8 L575 1925 L575.5 1923.2 L576 1922.4 L576.5 1922.6 L577 1923.3 L577.5 1924.5 L578 1926.2 L578.5 1928.3 L579 1930.9 L579.5 1933.9 L580 1937.3 L580.5 1941.2 L581 1945.5 L581.5 1950.2 L582 1955.3 L582.5 1960.8 L583 1966.8 L583.5 1973.1 L584 1979.8 L584.5 1986.9 L585 1994.2 L585.5 2001.6 L586 2009.2 L586.5 2016.5 L587 2023.4 L587.5 2029.6 L588 2034.6 L588.5 2038 L589 2039.4 L589.5 2037.8 L590 2031.9 L590.5 2023.2 L591 2012.7 L591.5 2001.6 L592 1990.5 L592.5 1979.9 L593 1969.9 L593.5 1960.8 L594 1952.5 L594.5 1945.1 L595 1938.6 L595.5 1933 L596 1928.3 L596.5 1924.4 L597 1921.5 L597.5 1919.5 L598 1918.6 L598.5 1918.6 L599 1919.3 L599.5 1920.6 L600 1922.4 L600.5 1924.7 L601 1927.5 L601.5 1930.7 L602 1934.4 L602.5 1938.6 L603 1943.3 L603.5 1948.4 L604 1953.8 L604.5 1959.7 L605 1966 L605.5 1972.6 L606 1979.4 L606.5 1986.3 L607 1993.2 L607.5 1999.9 L608 2006.1 L608.5 2011.4 L609 2015.5 L609.5 2018 L610 2018.6 L610.5 2016.5 L611 2011.9 L611.5 2005.6 L612 1998.1 L612.5 1990.1 L613 1982 L613.5 1974 L614 1966.4 L614.5 1959.3 L615 1952.8 L615.5 1946.9 L616 1941.7 L616.5 1937.2 L617 1933.4 L617.5 1930.4 L618 1928.2 L618.5 1926.8 L619 1926.3 L619.5 1926.8 L620 1928 L620.5 1930 L621 1932.7 L621.5 1936.2 L622 1940.4 L622.5 1945.3 L623 1951 L623.5 1957.6 L624 1965 L624.5 1973.3 L625 1982.8 L625.5 1993.3 L626 2005.2 L626.5 2018.6 L627 2033.6 L627.5 2050.6 L628 2069.7 L628.5 2091.2 L629 2114.9 L629.5 2139.6 L630 2162.2 L630.5 2176 L631 2173.3 L631.5 2153.6 L632 2126.9 L632.5 2100.1 L633 2075.5 L633.5 2053.8 L634 2034.9 L634.5 2018.3 L635 2003.7 L635.5 1991 L636 1979.8 L636.5 1970 L637 1961.4 L637.5 1954 L638 1947.6 L638.5 1942.1 L639 1937.6 L639.5 1934 L640 1931.4 L640.5 1929.7 L641 1928.9 L641.5 1929.2 L642 1930.1 L642.5 1931.7 L643 1933.9 L643.5 1936.7 L644 1940.2 L644.5 1944.2 L645 1948.8 L645.5 1954.1 L646 1960 L646.5 1966.5 L647 1973.7 L647.5 1981.5 L648 1990 L648.5 1999.2 L649 2009.1 L649.5 2019.4 L650 2030.2 L650.5 2041 L651 2051.5 L651.5 2060.8 L652 2068.2 L652.5 2072.5 L653 2072.6 L653.5 2066.4 L654 2055.2 L654.5 2041.4 L655 2026.8 L655.5 2012.5 L656 1999.1 L656.5 1986.7 L657 1975.5 L657.5 1965.5 L658 1956.6 L658.5 1948.9 L659 1942.2 L659.5 1936.5 L660 1931.9 L660.5 1928.2 L661 1925.6 L661.5 1924.1 L662 1923.7 L662.5 1924.5 L663 1926.2 L663.5 1928.8 L664 1932.4 L664.5 1936.8 L665 1942.2 L665.5 1948.5 L666 1955.9 L666.5 1964.3 L667 1974 L667.5 1984.9 L668 1997.4 L668.5 2011.5 L669 2027.6 L669.5 2045.8 L670 2066.3 L670.5 2089.1 L671 2113.5 L671.5 2136.8 L672 2153.3 L672.5 2154.3 L673 2133.5 L673.5 2103.3 L674 2073.5 L674.5 2047.2 L675 2024.7 L675.5 2005.5 L676 1989.3 L676.5 1975.6 L677 1964.1 L677.5 1954.5 L678 1946.6 L678.5 1940.4 L679 1935.8 L679.5 1932.9 L680 1931.6 L680.5 1931.7 L681 1932.3 L681.5 1933.3 L682 1934.7 L682.5 1936.6 L683 1938.8 L683.5 1941.5 L684 1944.5 L684.5 1947.9 L685 1951.7 L685.5 1956 L686 1960.7 L686.5 1965.8 L687 1971.3 L687.5 1977.4 L688 1983.9 L688.5 1991 L689 1998.5 L689.5 2006.7 L690 2015.4 L690.5 2024.7 L691 2034.5 L691.5 2044.8 L692 2055.5 L692.5 2066.4 L693 2077.1 L693.5 2087.1 L694 2095.8 L694.5 2102.2 L695 2105.5 L695.5 2104.1 L696 2095.2 L696.5 2081.2 L697 2065.1 L697.5 2048.5 L698 2032.6 L698.5 2017.9 L699 2004.4 L699.5 1992.2 L700 1981.2 L700.5 1971.4 L701 1962.7 L701.5 1954.9 L702 1948.2 L702.5 1942.3 L703 1937.3 L703.5 1933.1 L704 1929.8 L704.5 1927.3 L705 1925.7 L705.5 1925 L706 1925.2 L706.5 1926 L707 1927.3 L707.5 1929.1 L708 1931.5 L708.5 1934.4 L709 1937.7 L709.5 1941.6 L710 1945.9 L710.5 1950.8 L711 1956.2 L711.5 1962.1 L712 1968.6 L712.5 1975.6 L713 1983.3 L713.5 1991.5 L714 2000.3 L714.5 2009.7 L715 2019.5 L715.5 2029.8 L716 2040.1 L716.5 2050.2 L717 2059.6 L717.5 2067.6 L718 2073.3 L718.5 2075.8 L719 2073.8 L719.5 2066.2 L720 2054.8 L720.5 2041.6 L721 2027.8 L721.5 2014.2 L722 2001.4 L722.5 1989.4 L723 1978.5 L723.5 1968.6 L724 1959.6 L724.5 1951.6 L725 1944.5 L725.5 1938.2 L726 1932.8 L726.5 1928.2 L727 1924.3 L727.5 1921.3 L728 1919.1 L728.5 1917.7 L729 1917.2 L729.5 1917.7 L730 1919.2 L730.5 1921.5 L731 1924.7 L731.5 1928.8 L732 1933.7 L732.5 1939.6 L733 1946.3 L733.5 1954 L734 1962.8 L734.5 1972.6 L735 1983.7 L735.5 1996.1 L736 2009.9 L736.5 2025.2 L737 2041.8 L737.5 2059.5 L738 2077.4 L738.5 2093.7 L739 2105.1 L739.5 2108.2 L740 2103.3 L740.5 2092.9 L741 2079.4 L741.5 2064.6 L742 2049.8 L742.5 2035.6 L743 2022.5 L743.5 2010.4 L744 1999.5 L744.5 1989.6 L745 1980.7 L745.5 1972.9 L746 1965.9 L746.5 1959.8 L747 1954.6 L747.5 1950.2 L748 1946.6 L748.5 1943.8 L749 1941.9 L749.5 1940.8 L750 1940.7 L750.5 1941.7 L751 1943.7 L751.5 1946.6 L752 1950.6 L752.5 1955.5 L753 1961.5 L753.5 1968.5 L754 1976.6 L754.5 1986.1 L755 1997 L755.5 2009.6 L756 2024.1 L756.5 2041.1 L757 2061 L757.5 2084.9 L758 2114 L758.5 2150.5 L759 2198.4 L759.5 2263.6 L760 2340.4 L760.5 2338.6 L761 2278.8 L761.5 2223.5 L762 2180 L762.5 2145.6 L763 2117.5 L763.5 2094 L764 2074.1 L764.5 2056.9 L765 2041.8 L765.5 2028.6 L766 2016.9 L766.5 2006.4 L767 1997.1 L767.5 1988.8 L768 1981.4 L768.5 1974.9 L769 1969 L769.5 1963.9 L770 1959.4 L770.5 1955.6 L771 1952.4 L771.5 1949.8 L772 1947.9 L772.5 1946.5 L773 1945.9 L773.5 1946 L774 1947.4 L774.5 1949.9 L775 1953.5 L775.5 1958.2 L776 1964 L776.5 1970.9 L777 1979.1 L777.5 1988.4 L778 1999.2 L778.5 2011.4 L779 2025.1 L779.5 2040.5 L780 2057.5 L780.5 2075.7 L781 2094.2 L781.5 2110.7 L782 2121.8 L782.5 2123.3 L783 2115.6 L783.5 2101.6 L784 2084.6 L784.5 2067 L785 2049.9 L785.5 2033.9 L786 2019.3 L786.5 2006 L787 1994 L787.5 1983.1 L788 1973.4 L788.5 1964.6 L789 1956.7 L789.5 1949.7 L790 1943.5 L790.5 1938.1 L791 1933.4 L791.5 1929.3 L792 1926 L792.5 1923.4 L793 1921.5 L793.5 1920.3 L794 1919.8 L794.5 1920.5 L795 1922.5 L795.5 1925.7 L796 1930.3 L796.5 1936.1 L797 1943.2 L797.5 1951.7 L798 1961.8 L798.5 1973.6 L799 1987.5 L799.5 2003.8 L800 2023 L800.5 2046.1 L801 2074.2 L801.5 2108.8 L802 2152.3 L802.5 2204.5 L803 2246.5 L803.5 2237.2 L804 2200.5 L804.5 2160.8 L805 2126 L805.5 2096.7 L806 2071.9 L806.5 2050.8 L807 2032.6 L807.5 2016.8 L808 2002.9 L808.5 1990.8 L809 1980 L809.5 1970.5 L810 1962.1 L810.5 1954.8 L811 1948.3 L811.5 1942.6 L812 1937.8 L812.5 1933.8 L813 1930.5 L813.5 1927.9 L814 1926.2 L814.5 1925.2 L815 1925.1 L815.5 1926.3 L816 1928.7 L816.5 1932.4 L817 1937.2 L817.5 1943.3 L818 1950.7 L818.5 1959.5 L819 1969.8 L819.5 1981.8 L820 1995.8 L820.5 2012.1 L821 2031.1 L821.5 2053.3 L822 2079.5 L822.5 2110 L823 2143.6 L823.5 2173.9 L824 2184.9 L824.5 2173.6 L825 2151 L825.5 2125.1 L826 2100.2 L826.5 2077.6 L827 2057.5 L827.5 2039.7 L828 2024 L828.5 2010.1 L829 1997.8 L829.5 1986.8 L830 1977.1 L830.5 1968.4 L831 1960.7 L831.5 1953.9 L832 1948 L832.5 1942.9 L833 1938.5 L833.5 1934.8 L834 1931.9 L834.5 1929.7 L835 1928.3 L835.5 1927.7 L836 1928 L836.5 1929.7 L837 1932.7 L837.5 1936.9 L838 1942.3 L838.5 1949.1 L839 1957.2 L839.5 1966.8 L840 1978.1 L840.5 1991.3 L841 2006.8 L841.5 2025 L842 2046.7 L842.5 2072.6 L843 2104.2 L843.5 2142.7 L844 2187.7 L844.5 2227 L845 2230.1 L845.5 2211 L846 2183.9 L846.5 2156.2 L847 2130.8 L847.5 2108.2 L848 2088.5 L848.5 2071.1 L849 2055.8 L849.5 2042.4 L850 2030.4 L850.5 2019.8 L851 2010.4 L851.5 2002 L852 1994.6 L852.5 1988.1 L853 1982.5 L853.5 1977.6 L854 1973.4 L854.5 1970.1 L855 1967.4 L855.5 1965.5 L856 1964.4 L856.5 1964 L857 1964.4 L857.5 1965.3 L858 1966.7 L858.5 1968.6 L859 1971 L859.5 1973.8 L860 1977.2 L860.5 1981 L861 1985.4 L861.5 1990.3 L862 1995.8 L862.5 2001.8 L863 2008.5 L863.5 2015.9 L864 2023.9 L864.5 2032.8 L865 2042.6 L865.5 2053.4 L866 2065.2 L866.5 2078.3 L867 2092.8 L867.5 2108.7 L868 2126.1 L868.5 2145 L869 2165 L869.5 2184.8 L870 2201.9 L870.5 2212.3 L871 2211.3 L871.5 2195.6 L872 2173 L872.5 2149.7 L873 2128.4 L873.5 2109.8 L874 2093.9 L874.5 2080.7 L875 2069.7 L875.5 2061 L876 2054.4 L876.5 2049.9 L877 2047.6 L877.5 2047.3 L878 2047.7 L878.5 2048.5 L879 2049.6 L879.5 2051.1 L880 2052.9 L880.5 2055 L881 2057.4 L881.5 2060.1 L882 2063 L882.5 2066.2 L883 2069.6 L883.5 2073.2 L884 2077.1 L884.5 2081 L885 2085.1 L885.5 2089.3 L886 2093.6 L886.5 2097.7 L887 2101.8 L887.5 2105.6 L888 2109.1 L888.5 2112.2 L889 2114.7 L889.5 2116.4 L890 2117.4 L890.5 2116.9 L891 2112.8 L891.5 2105.5 L892 2096.4 L892.5 2086.5 L893 2076.4 L893.5 2066.7 L894 2057.6 L894.5 2049.4 L895 2042.1 L895.5 2035.7 L896 2030.4 L896.5 2026.1 L897 2022.8 L897.5 2020.8 L898 2020 L898.5 2020.1 L899 2020.4 L899.5 2021.1 L900 2022 L900.5 2023.1 L901 2024.4 L901.5 2026 L902 2027.8 L902.5 2029.7 L903 2031.9 L903.5 2034.2 L904 2036.7 L904.5 2039.4 L905 2042.2 L905.5 2045.2 L906 2048.3 L906.5 2051.5 L907 2054.9 L907.5 2058.2 L908 2061.7 L908.5 2065.1 L909 2068.5 L909.5 2071.9 L910 2075.1 L910.5 2078.2 L911 2081 L911.5 2083.4 L912 2085.6 L912.5 2087.2 L913 2088.3 L913.5 2088.8 L914 2088.6 L914.5 2087.1 L915 2084.7 L915.5 2081.6 L916 2077.9 L916.5 2074 L917 2069.9 L917.5 2065.9 L918 2062.1 L918.5 2058.5 L919 2055.3 L919.5 2052.6 L920 2050.3 L920.5 2048.6 L921 2047.6 L921.5 2047.3 L922 2047.7 L922.5 2049 L923 2051.1 L923.5 2053.9 L924 2057.4 L924.5 2061.7 L925 2066.7 L925.5 2072.5 L926 2079.1 L926.5 2086.6 L927 2095.1 L927.5 2104.7 L928 2115.4 L928.5 2127.5 L929 2141.1 L929.5 2156.5 L930 2173.9 L930.5 2193.7 L931 2215.9 L931.5 2240.7 L932 2266.8 L932.5 2290.7 L933 2305 L933.5 2302.8 L934 2288.2 L934.5 2267.3 L935 2244.7 L935.5 2222.9 L936 2202.8 L936.5 2184.6 L937 2168.2 L937.5 2153.4 L938 2140.1 L938.5 2128.2 L939 2117.3 L939.5 2107.5 L940 2098.6 L940.5 2090.5 L941 2083.1 L941.5 2076.5 L942 2070.5 L942.5 2065 L943 2060.2 L943.5 2055.9 L944 2052.1 L944.5 2048.8 L945 2046 L945.5 2043.6 L946 2041.8 L946.5 2040.5 L947 2039.7 L947.5 2039.5 L948 2039.9 L948.5 2041.1 L949 2043.1 L949.5 2045.7 L950 2049 L950.5 2053 L951 2057.8 L951.5 2063.2 L952 2069.4 L952.5 2076.4 L953 2084.2 L953.5 2092.9 L954 2102.6 L954.5 2113.4 L955 2125.3 L955.5 2138.5 L956 2152.9 L956.5 2168.6 L957 2185.3 L957.5 2202.4 L958 2218.7 L958.5 2232 L959 2239.2 L959.5 2236.8 L960 2223.1 L960.5 2203.6 L961 2182.7 L961.5 2162.6 L962 2144.3 L962.5 2127.9 L963 2113.4 L963.5 2100.7 L964 2089.6 L964.5 2079.9 L965 2071.5 L965.5 2064.4 L966 2058.5 L966.5 2053.7 L967 2050 L967.5 2047.5 L968 2046.2 L968.5 2046 L969 2046.8 L969.5 2048.3 L970 2050.5 L970.5 2053.4 L971 2056.9 L971.5 2061.2 L972 2066.1 L972.5 2071.8 L973 2078.2 L973.5 2085.4 L974 2093.4 L974.5 2102.4 L975 2112.3 L975.5 2123.3 L976 2135.5 L976.5 2148.8 L977 2163.2 L977.5 2178.8 L978 2195 L978.5 2211.1 L979 2225.6 L979.5 2236 L980 2239.7 L980.5 2229.6 L981 2207.5 L981.5 2181.9 L982 2157.2 L982.5 2135 L983 2115.6 L983.5 2098.6 L984 2083.8 L984.5 2071 L985 2059.9 L985.5 2050.3 L986 2042.1 L986.5 2035.2 L987 2029.5 L987.5 2025 L988 2021.7 L988.5 2019.5 L989 2018.7 L989.5 2018.9 L990 2019.9 L990.5 2021.6 L991 2023.9 L991.5 2026.9 L992 2030.5 L992.5 2034.8 L993 2039.7 L993.5 2045.3 L994 2051.6 L994.5 2058.6 L995 2066.3 L995.5 2074.8 L996 2084.2 L996.5 2094.4 L997 2105.4 L997.5 2117.2 L998 2129.6 L998.5 2142.5 L999 2155.1 L999.5 2166.8 L1000 2176.1 L1000.5 2181.6 L1001 2181.5 L1001.5 2172.6 L1002 2157.5 L1002.5 2139.8 L1003 2121.7 L1003.5 2104.5 L1004 2088.6 L1004.5 2074.1 L1005 2061.2 L1005.5 2049.6 L1006 2039.2 L1006.5 2030 L1007 2021.9 L1007.5 2014.8 L1008 2008.7 L1008.5 2003.4 L1009 1999 L1009.5 1995.4 L1010 1992.8 L1010.5 1991 L1011 1990.1 L1011.5 1990.2 L1012 1991.3 L1012.5 1993.3 L1013 1996.1 L1013.5 1999.7 L1014 2004.2 L1014.5 2009.5 L1015 2015.7 L1015.5 2022.7 L1016 2030.8 L1016.5 2039.8 L1017 2049.8 L1017.5 2061 L1018 2073.4 L1018.5 2086.9 L1019 2101.5 L1019.5 2116.9 L1020 2132.4 L1020.5 2146.7 L1021 2157.7 L1021.5 2162.9 L1022 2158.1 L1022.5 2142.3 L1023 2122 L1023.5 2101.4 L1024 2082.4 L1024.5 2065.8 L1025 2051.6 L1025.5 2039.6 L1026 2029.8 L1026.5 2022 L1027 2016.2 L1027.5 2012.5 L1028 2010.9 L1028.5 2010.9 L1029 2011.3 L1029.5 2012 L1030 2013 L1030.5 2014.2 L1031 2015.7 L1031.5 2017.4 L1032 2019.4 L1032.5 2021.6 L1033 2024.1 L1033.5 2026.7 L1034 2029.7 L1034.5 2032.8 L1035 2036.2 L1035.5 2039.8 L1036 2043.6 L1036.5 2047.6 L1037 2051.9 L1037.5 2056.3 L1038 2061 L1038.5 2065.8 L1039 2070.8 L1039.5 2075.8 L1040 2081 L1040.5 2086.2 L1041 2091.3 L1041.5 2096.3 L1042 2101.1 L1042.5 2105.5 L1043 2109.5 L1043.5 2112.8 L1044 2115.3 L1044.5 2116.9 L1045 2117.5 L1045.5 2115 L1046 2108.5 L1046.5 2099.2 L1047 2088.4 L1047.5 2077.1 L1048 2066 L1048.5 2055.3 L1049 2045.4 L1049.5 2036.3 L1050 2028.1 L1050.5 2020.8 L1051 2014.4 L1051.5 2008.9 L1052 2004.3 L1052.5 2000.6 L1053 1997.8 L1053.5 1996 L1054 1995.3 L1054.5 1995.6 L1055 1996.9 L1055.5 1999.1 L1056 2002.2 L1056.5 2006.2 L1057 2011 L1057.5 2016.8 L1058 2023.5 L1058.5 2031.2 L1059 2040 L1059.5 2050 L1060 2061.2 L1060.5 2073.8 L1061 2088 L1061.5 2103.9 L1062 2121.4 L1062.5 2140.6 L1063 2160.6 L1063.5 2179.8 L1064 2194.8 L1064.5 2200.7 L1065 2192 L1065.5 2171.1 L1066 2146.2 L1066.5 2121.7 L1067 2099.3 L1067.5 2079.4 L1068 2061.9 L1068.5 2046.5 L1069 2033 L1069.5 2021 L1070 2010.6 L1070.5 2001.3 L1071 1993.3 L1071.5 1986.3 L1072 1980.3 L1072.5 1975.3 L1073 1971.2 L1073.5 1968 L1074 1965.7 L1074.5 1964.4 L1075 1964 L1075.5 1964.6 L1076 1966 L1076.5 1968 L1077 1970.8 L1077.5 1974.3 L1078 1978.4 L1078.5 1983.1 L1079 1988.6 L1079.5 1994.6 L1080 2001.3 L1080.5 2008.6 L1081 2016.5 L1081.5 2025 L1082 2033.8 L1082.5 2042.9 L1083 2052 L1083.5 2060.7 L1084 2068.3 L1084.5 2074.3 L1085 2077.8 L1085.5 2078.5 L1086 2078.3 L1086.5 2077.9 L1087 2077.3 L1087.5 2076.6 L1088 2075.7 L1088.5 2074.6 L1089 2073.4 L1089.5 2072 L1090 2070.6 L1090.5 2069 L1091 2067.4 L1091.5 2065.6 L1092 2063.8 L1092.5 2061.9 L1093 2060 L1093.5 2058.1 L1094 2056.1 L1094.5 2054.1 L1095 2052 L1095.5 2050 L1096 2048 L1096.5 2045.9 L1097 2043.9 L1097.5 2041.9 L1098 2039.8 L1098.5 2037.1 L1099 2033.5 L1099.5 2029.5 L1100 2025 L1100.5 2020.3 L1101 2015.4 L1101.5 2010.4 L1102 2005.5 L1102.5 2000.7 L1103 1996 L1103.5 1991.5 L1104 1987.2 L1104.5 1983.1 L1105 1979.3 L1105.5 1975.7 L1106 1972.4 L1106.5 1969.4 L1107 1966.6 L1107.5 1964.2 L1108 1962 L1108.5 1960.2 L1109 1958.7 L1109.5 1957.5 L1110 1956.7 L1110.5 1956.3 L1111 1956.3 L1111.5 1956.5 L1112 1956.9 L1112.5 1957.6 L1113 1958.5 L1113.5 1959.6 L1114 1960.9 L1114.5 1962.4 L1115 1964.1 L1115.5 1965.9 L1116 1967.9 L1116.5 1970 L1117 1972.3 L1117.5 1974.7 L1118 1977.2 L1118.5 1979.9 L1119 1982.6 L1119.5 1985.4 L1120 1988.3 L1120.5 1991.1 L1121 1994 L1121.5 1996.9 L1122 1999.7 L1122.5 2002.4 L1123 2005 L1123.5 2007.4 L1124 2009.5 L1124.5 2011.3 L1125 2012.8 L1125.5 2013.9 L1126 2014.6 L1126.5 2014.7 L1127 2011.9 L1127.5 2006 L1128 1998 L1128.5 1988.9 L1129 1979.4 L1129.5 1970.1 L1130 1961.3 L1130.5 1953.1 L1131 1945.8 L1131.5 1939.4 L1132 1934 L1132.5 1929.5 L1133 1926 L1133.5 1923.7 L1134 1922.5 L1134.5 1922.6 L1135 1923.5 L1135.5 1925.3 L1136 1927.8 L1136.5 1931 L1137 1935 L1137.5 1939.7 L1138 1945 L1138.5 1951.2 L1139 1958 L1139.5 1965.6 L1140 1973.9 L1140.5 1983 L1141 1992.7 L1141.5 2003 L1142 2013.6 L1142.5 2024.2 L1143 2034.3 L1143.5 2043 L1144 2049.4 L1144.5 2052.4 L1145 2050.7 L1145.5 2044.2 L1146 2034.2 L1146.5 2022.4 L1147 2009.8 L1147.5 1997.3 L1148 1985.3 L1148.5 1974 L1149 1963.6 L1149.5 1954.1 L1150 1945.5 L1150.5 1937.8 L1151 1930.9 L1151.5 1924.8 L1152 1919.5 L1152.5 1915 L1153 1911.2 L1153.5 1908.2 L1154 1906 L1154.5 1904.7 L1155 1904.2 L1155.5 1904.6 L1156 1905.9 L1156.5 1907.8 L1157 1910.6 L1157.5 1914 L1158 1918.1 L1158.5 1922.9 L1159 1928.4 L1159.5 1934.5 L1160 1941.4 L1160.5 1948.9 L1161 1957.1 L1161.5 1966 L1162 1975.4 L1162.5 1985.1 L1163 1995 L1163.5 2004.6 L1164 2013.4 L1164.5 2020.6 L1165 2025.2 L1165.5 2026.4 L1166 2024.9 L1166.5 2021.5 L1167 2016.6 L1167.5 2010.7 L1168 2004 L1168.5 1997.1 L1169 1990.1 L1169.5 1983.2 L1170 1976.6 L1170.5 1970.3 L1171 1964.5 L1171.5 1959.1 L1172 1954.2 L1172.5 1949.8 L1173 1946 L1173.5 1942.7 L1174 1940 L1174.5 1937.9 L1175 1936.4 L1175.5 1935.6 L1176 1935.5 L1176.5 1935.8 L1177 1936.5 L1177.5 1937.6 L1178 1939.1 L1178.5 1940.8 L1179 1942.9 L1179.5 1945.2 L1180 1947.8 L1180.5 1950.7 L1181 1953.9 L1181.5 1957.3 L1182 1960.9 L1182.5 1964.7 L1183 1968.6 L1183.5 1972.7 L1184 1976.9 L1184.5 1981.1 L1185 1985.3 L1185.5 1989.4 L1186 1993.3 L1186.5 1996.8 L1187 1999.9 L1187.5 2002.5 L1188 2004.4 L1188.5 2005.4 L1189 2005.4 L1189.5 2002.9 L1190 1997.9 L1190.5 1991.1 L1191 1983.2 L1191.5 1974.7 L1192 1966 L1192.5 1957.5 L1193 1949.3 L1193.5 1941.6 L1194 1934.4 L1194.5 1927.8 L1195 1921.7 L1195.5 1916.3 L1196 1911.5 L1196.5 1907.4 L1197 1903.8 L1197.5 1901 L1198 1898.8 L1198.5 1897.2 L1199 1896.5 L1199.5 1896.6 L1200 1898 L1200.5 1900.5 L1201 1904.3 L1201.5 1909.1 L1202 1915.1 L1202.5 1922.3 L1203 1930.8 L1203.5 1940.6 L1204 1951.9 L1204.5 1964.9 L1205 1979.7 L1205.5 1996.5 L1206 2015.4 L1206.5 2036.3 L1207 2058.2 L1207.5 2079 L1208 2093.6 L1208.5 2095.8 L1209 2084.6 L1209.5 2065.6 L1210 2044.1 L1210.5 2023.1 L1211 2003.8 L1211.5 1986.6 L1212 1971.3 L1212.5 1957.9 L1213 1946.2 L1213.5 1936 L1214 1927.2 L1214.5 1919.7 L1215 1913.3 L1215.5 1908.2 L1216 1904.1 L1216.5 1901.2 L1217 1899.5 L1217.5 1899 L1218 1899.5 L1218.5 1900.6 L1219 1902.3 L1219.5 1904.6 L1220 1907.5 L1220.5 1910.9 L1221 1914.9 L1221.5 1919.4 L1222 1924.6 L1222.5 1930.2 L1223 1936.5 L1223.5 1943.3 L1224 1950.7 L1224.5 1958.6 L1225 1967.1 L1225.5 1975.9 L1226 1985.1 L1226.5 1994.4 L1227 2003.4 L1227.5 2011.8 L1228 2018.8 L1228.5 2023.9 L1229 2026.3 L1229.5 2026 L1230 2024 L1230.5 2020.6 L1231 2016.3 L1231.5 2011.3 L1232 2005.9 L1232.5 2000.4 L1233 1994.9 L1233.5 1989.6 L1234 1984.5 L1234.5 1979.8 L1235 1975.6 L1235.5 1971.8 L1236 1968.5 L1236.5 1965.8 L1237 1963.7 L1237.5 1962.3 L1238 1961.5 L1238.5 1961.6 L1239 1962.4 L1239.5 1964.1 L1240 1966.6 L1240.5 1969.9 L1241 1973.9 L1241.5 1978.7 L1242 1984.3 L1242.5 1990.7 L1243 1998.1 L1243.5 2006.6 L1244 2016.1 L1244.5 2026.9 L1245 2039.3 L1245.5 2053.3 L1246 2069.5 L1246.5 2088.2 L1247 2110.2 L1247.5 2136.5 L1248 2168.6 L1248.5 2208.8 L1249 2260.4 L1249.5 2322.2 L1250 2352.9 L1250.5 2290.5 L1251 2221.7 L1251.5 2170.5 L1252 2131.9 L1252.5 2101.6 L1253 2077 L1253.5 2056.7 L1254 2039.7 L1254.5 2025.3 L1255 2013 L1255.5 2002.6 L1256 1993.8 L1256.5 1986.4 L1257 1980.4 L1257.5 1975.7 L1258 1972.2 L1258.5 1970.1 L1259 1969.2 L1259.5 1969.4 L1260 1970.1 L1260.5 1971.1 L1261 1972.6 L1261.5 1974.5 L1262 1976.8 L1262.5 1979.5 L1263 1982.6 L1263.5 1986.1 L1264 1990 L1264.5 1994.3 L1265 1999.1 L1265.5 2004.3 L1266 2010.1 L1266.5 2016.3 L1267 2023.1 L1267.5 2030.5 L1268 2038.5 L1268.5 2047.3 L1269 2056.7 L1269.5 2067 L1270 2078.1 L1270.5 2090.1 L1271 2103.1 L1271.5 2116.9 L1272 2131.5 L1272.5 2146.5 L1273 2161.3 L1273.5 2174.7 L1274 2184.9 L1274.5 2190 L1275 2184.4 L1275.5 2161.9 L1276 2133.8 L1276.5 2106.7 L1277 2082.8 L1277.5 2062.1 L1278 2044.5 L1278.5 2029.4 L1279 2016.7 L1279.5 2006 L1280 1997.1 L1280.5 1989.8 L1281 1984.2 L1281.5 1980.2 L1282 1977.8 L1282.5 1977 L1283 1977.4 L1283.5 1978.2 L1284 1979.5 L1284.5 1981.2 L1285 1983.4 L1285.5 1985.9 L1286 1988.9 L1286.5 1992.3 L1287 1996.2 L1287.5 2000.4 L1288 2005 L1288.5 2009.9 L1289 2015.3 L1289.5 2021 L1290 2027.1 L1290.5 2033.5 L1291 2040.2 L1291.5 2047 L1292 2053.9 L1292.5 2060.8 L1293 2067.4 L1293.5 2073.5 L1294 2078.8 L1294.5 2082.9 L1295 2085.5 L1295.5 2086.2 L1296 2083.7 L1296.5 2077.7 L1297 2069.2 L1297.5 2059.2 L1298 2048.6 L1298.5 2037.9 L1299 2027.6 L1299.5 2017.8 L1300 2008.7 L1300.5 2000.3 L1301 1992.6 L1301.5 1985.7 L1302 1979.5 L1302.5 1974 L1303 1969.3 L1303.5 1965.2 L1304 1961.9 L1304.5 1959.3 L1305 1957.5 L1305.5 1956.5 L1306 1956.3 L1306.5 1956.9 L1307 1958.3 L1307.5 1960.5 L1308 1963.4 L1308.5 1967 L1309 1971.4 L1309.5 1976.5 L1310 1982.3 L1310.5 1989 L1311 1996.5 L1311.5 2005 L1312 2014.6 L1312.5 2025.2 L1313 2037.2 L1313.5 2050.6 L1314 2065.7 L1314.5 2082.5 L1315 2101.3 L1315.5 2122 L1316 2144.2 L1316.5 2166.2 L1317 2184.3 L1317.5 2192.8 L1318 2178.6 L1318.5 2143.6 L1319 2107.2 L1319.5 2075.5 L1320 2049 L1320.5 2026.8 L1321 2008.3 L1321.5 1992.8 L1322 1979.8 L1322.5 1968.9 L1323 1959.9 L1323.5 1952.7 L1324 1947.2 L1324.5 1943.3 L1325 1941.1 L1325.5 1940.7 L1326 1941.7 L1326.5 1944.1 L1327 1947.6 L1327.5 1952.3 L1328 1958.3 L1328.5 1965.5 L1329 1974 L1329.5 1984 L1330 1995.7 L1330.5 2009.2 L1331 2024.9 L1331.5 2043 L1332 2064.1 L1332.5 2088.5 L1333 2116.3 L1333.5 2146.1 L1334 2172.2 L1334.5 2182.5 L1335 2177.9 L1335.5 2166.9 L1336 2152.2 L1336.5 2136 L1337 2119.7 L1337.5 2104.1 L1338 2089.6 L1338.5 2076.1 L1339 2063.8 L1339.5 2052.6 L1340 2042.4 L1340.5 2033.1 L1341 2024.6 L1341.5 2017 L1342 2010.1 L1342.5 2003.8 L1343 1998.3 L1343.5 1993.3 L1344 1988.9 L1344.5 1985.1 L1345 1981.9 L1345.5 1979.2 L1346 1977.2 L1346.5 1975.6 L1347 1974.7 L1347.5 1974.4 L1348 1974.9 L1348.5 1976.2 L1349 1978.2 L1349.5 1981 L1350 1984.5 L1350.5 1988.7 L1351 1993.6 L1351.5 1999.4 L1352 2006 L1352.5 2013.4 L1353 2021.8 L1353.5 2031.2 L1354 2041.8 L1354.5 2053.8 L1355 2067.2 L1355.5 2082.2 L1356 2099.2 L1356.5 2118.4 L1357 2139.9 L1357.5 2163.4 L1358 2188 L1358.5 2210.1 L1359 2223.1 L1359.5 2220.3 L1360 2202.9 L1360.5 2179 L1361 2154.1 L1361.5 2130.9 L1362 2110 L1362.5 2091.4 L1363 2074.9 L1363.5 2060.3 L1364 2047.4 L1364.5 2035.9 L1365 2025.6 L1365.5 2016.5 L1366 2008.4 L1366.5 2001.2 L1367 1994.9 L1367.5 1989.4 L1368 1984.7 L1368.5 1980.7 L1369 1977.4 L1369.5 1974.9 L1370 1973.1 L1370.5 1972.1 L1371 1971.9 L1371.5 1973.1 L1372 1975.7 L1372.5 1979.7 L1373 1985 L1373.5 1991.6 L1374 1999.6 L1374.5 2008.9 L1375 2019.6 L1375.5 2031.7 L1376 2045.1 L1376.5 2059.7 L1377 2074.8 L1377.5 2089.3 L1378 2101.3 L1378.5 2107.9 L1379 2107.8 L1379.5 2105 L1380 2100.1 L1380.5 2093.8 L1381 2086.4 L1381.5 2078.4 L1382 2070.2 L1382.5 2062 L1383 2054 L1383.5 2046.2 L1384 2038.9 L1384.5 2031.9 L1385 2025.4 L1385.5 2019.4 L1386 2013.8 L1386.5 2008.6 L1387 2003.9 L1387.5 1999.7 L1388 1995.9 L1388.5 1992.5 L1389 1989.7 L1389.5 1987.2 L1390 1985.2 L1390.5 1983.7 L1391 1982.7 L1391.5 1982.3 L1392 1982.4 L1392.5 1983.5 L1393 1985.4 L1393.5 1988.2 L1394 1991.7 L1394.5 1996 L1395 2001.2 L1395.5 2007.2 L1396 2014 L1396.5 2021.7 L1397 2030.3 L1397.5 2039.8 L1398 2050.4 L1398.5 2062 L1399 2074.5 L1399.5 2087.8 L1400 2101.6 L1400.5 2115.2 L1401 2127.5 L1401.5 2136.6 L1402 2140.8 L1402.5 2140.2 L1403 2137.7 L1403.5 2133.7 L1404 2128.5 L1404.5 2122.4 L1405 2115.9 L1405.5 2109 L1406 2102.1 L1406.5 2095.2 L1407 2088.6 L1407.5 2082.2 L1408 2076.1 L1408.5 2070.3 L1409 2064.9 L1409.5 2059.9 L1410 2055.3 L1410.5 2051 L1411 2047.2 L1411.5 2043.8 L1412 2040.7 L1412.5 2038.1 L1413 2035.9 L1413.5 2034.2 L1414 2032.9 L1414.5 2032 L1415 2031.7 L1415.5 2031.9 L1416 2032.9 L1416.5 2034.6 L1417 2036.9 L1417.5 2039.8 L1418 2043.3 L1418.5 2047.4 L1419 2052 L1419.5 2057.2 L1420 2062.9 L1420.5 2069.1 L1421 2075.8 L1421.5 2082.8 L1422 2090.2 L1422.5 2097.6 L1423 2105 L1423.5 2112 L1424 2118.3 L1424.5 2123.4 L1425 2126.7 L1425.5 2127.9 L1426 2124.2 L1426.5 2114.7 L1427 2101.7 L1427.5 2087.2 L1428 2072.5 L1428.5 2058.3 L1429 2045.1 L1429.5 2032.9 L1430 2021.8 L1430.5 2011.8 L1431 2002.9 L1431.5 1994.8 L1432 1987.8 L1432.5 1981.5 L1433 1976.2 L1433.5 1971.6 L1434 1967.9 L1434.5 1965 L1435 1962.9 L1435.5 1961.7 L1436 1961.5 L1436.5 1962.2 L1437 1963.9 L1437.5 1966.5 L1438 1970 L1438.5 1974.3 L1439 1979.4 L1439.5 1985.3 L1440 1992 L1440.5 1999.5 L1441 2007.6 L1441.5 2016.4 L1442 2025.7 L1442.5 2035.3 L1443 2044.8 L1443.5 2053.7 L1444 2061.1 L1444.5 2066.2 L1445 2068.1 L1445.5 2067.5 L1446 2065.8 L1446.5 2063.3 L1447 2060.1 L1447.5 2056.4 L1448 2052.4 L1448.5 2048.3 L1449 2044.1 L1449.5 2040.1 L1450 2036.2 L1450.5 2032.6 L1451 2029.3 L1451.5 2026.4 L1452 2023.8 L1452.5 2021.7 L1453 2020.2 L1453.5 2019.1 L1454 2018.7 L1454.5 2018.9 L1455 2019.7 L1455.5 2021.2 L1456 2023.2 L1456.5 2025.9 L1457 2029.1 L1457.5 2032.9 L1458 2037.2 L1458.5 2042.2 L1459 2047.8 L1459.5 2054.1 L1460 2061.1 L1460.5 2068.9 L1461 2077.5 L1461.5 2087 L1462 2097.5 L1462.5 2109.1 L1463 2121.9 L1463.5 2136 L1464 2151.5 L1464.5 2168.4 L1465 2186.4 L1465.5 2204.9 L1466 2222.5 L1466.5 2236.6 L1467 2243.4 L1467.5 2240.3 L1468 2228.4 L1468.5 2211.5 L1469 2192.7 L1469.5 2174 L1470 2156.4 L1470.5 2140.2 L1471 2125.4 L1471.5 2112 L1472 2099.8 L1472.5 2088.8 L1473 2078.9 L1473.5 2069.9 L1474 2061.7 L1474.5 2054.4 L1475 2047.8 L1475.5 2041.9 L1476 2036.7 L1476.5 2032 L1477 2028 L1477.5 2024.5 L1478 2021.7 L1478.5 2019.4 L1479 2017.6 L1479.5 2016.5 L1480 2016.1 L1480.5 2016.3 L1481 2017.4 L1481.5 2019.3 L1482 2021.9 L1482.5 2025.2 L1483 2029.1 L1483.5 2033.6 L1484 2038.7 L1484.5 2044.3 L1485 2050.4 L1485.5 2056.8 L1486 2063.5 L1486.5 2070.2 L1487 2076.8 L1487.5 2082.8 L1488 2088 L1488.5 2091.9 L1489 2093.9 L1489.5 2093.7 L1490 2091.5 L1490.5 2087.5 L1491 2082.2 L1491.5 2075.9 L1492 2068.9 L1492.5 2061.6 L1493 2054.2 L1493.5 2046.8 L1494 2039.5 L1494.5 2032.5 L1495 2025.8 L1495.5 2019.4 L1496 2013.4 L1496.5 2007.7 L1497 2002.4 L1497.5 1997.5 L1498 1993 L1498.5 1988.8 L1499 1985 L1499.5 1981.5 L1500 1978.4 L1500.5 1975.7 L1501 1973.4 L1501.5 1971.4 L1502 1969.8 L1502.5 1968.6 L1503 1967.8 L1503.5 1967.5 L1504 1967.6 L1504.5 1968.5 L1505 1969.9 L1505.5 1972 L1506 1974.6 L1506.5 1977.8 L1507 1981.5 L1507.5 1985.8 L1508 1990.5 L1508.5 1995.8 L1509 2001.5 L1509.5 2007.7 L1510 2014.3 L1510.5 2021.2 L1511 2028.4 L1511.5 2035.6 L1512 2042.8 L1512.5 2049.7 L1513 2055.8 L1513.5 2060.9 L1514 2064.3 L1514.5 2065.8 L1515 2065.5 L1515.5 2064.4 L1516 2062.7 L1516.5 2060.4 L1517 2057.7 L1517.5 2054.6 L1518 2051.4 L1518.5 2048 L1519 2044.5 L1519.5 2041.1 L1520 2037.8 L1520.5 2034.6 L1521 2031.5 L1521.5 2028.7 L1522 2026.1 L1522.5 2023.7 L1523 2021.7 L1523.5 2019.9 L1524 2018.5 L1524.5 2017.5 L1525 2016.8 L1525.5 2016.6 L1526 2017.1 L1526.5 2018.3 L1527 2020.3 L1527.5 2023.1 L1528 2026.5 L1528.5 2030.7 L1529 2035.6 L1529.5 2041.2 L1530 2047.5 L1530.5 2054.7 L1531 2062.6 L1531.5 2071.3 L1532 2080.9 L1532.5 2091.4 L1533 2102.7 L1533.5 2114.7 L1534 2127.1 L1534.5 2139.6 L1535 2151.3 L1535.5 2161.2 L1536 2167.7 L1536.5 2169.4 L1537 2162.4 L1537.5 2147.8 L1538 2129.6 L1538.5 2110.5 L1539 2092.1 L1539.5 2075 L1540 2059.3 L1540.5 2045.2 L1541 2032.4 L1541.5 2020.8 L1542 2010.4 L1542.5 2001 L1543 1992.6 L1543.5 1985.1 L1544 1978.3 L1544.5 1972.3 L1545 1967 L1545.5 1962.4 L1546 1958.4 L1546.5 1955.1 L1547 1952.5 L1547.5 1950.4 L1548 1949.1 L1548.5 1948.4 L1549 1948.5 L1549.5 1949.2 L1550 1950.5 L1550.5 1952.4 L1551 1954.9 L1551.5 1957.9 L1552 1961.4 L1552.5 1965.5 L1553 1970.2 L1553.5 1975.4 L1554 1981.2 L1554.5 1987.6 L1555 1994.6 L1555.5 2002.2 L1556 2010.4 L1556.5 2019.2 L1557 2028.6 L1557.5 2038.5 L1558 2048.7 L1558.5 2059.1 L1559 2069.2 L1559.5 2078.5 L1560 2086.1 L1560.5 2091.3 L1561 2093.1 L1561.5 2089.5 L1562 2080.3 L1562.5 2067.7 L1563 2053.6 L1563.5 2039.3 L1564 2025.6 L1564.5 2012.8 L1565 2001.1 L1565.5 1990.5 L1566 1981.1 L1566.5 1972.6 L1567 1965.2 L1567.5 1958.8 L1568 1953.3 L1568.5 1948.8 L1569 1945.2 L1569.5 1942.5 L1570 1940.8 L1570.5 1940.2 L1571 1940.4 L1571.5 1941 L1572 1942.2 L1572.5 1943.8 L1573 1945.8 L1573.5 1948.2 L1574 1951.1 L1574.5 1954.4 L1575 1958.1 L1575.5 1962.3 L1576 1966.9 L1576.5 1972 L1577 1977.6 L1577.5 1983.8 L1578 1990.5 L1578.5 1997.8 L1579 2005.8 L1579.5 2014.4 L1580 2023.8 L1580.5 2034 L1581 2045.1 L1581.5 2057 L1582 2069.9 L1582.5 2083.6 L1583 2098 L1583.5 2112.7 L1584 2127.1 L1584.5 2139.7 L1585 2149 L1585.5 2153.1 L1586 2147 L1586.5 2128.2 L1587 2104.1 L1587.5 2079.6 L1588 2056.7 L1588.5 2036.1 L1589 2017.6 L1589.5 2001.2 L1590 1986.4 L1590.5 1973.3 L1591 1961.4 L1591.5 1950.8 L1592 1941.2 L1592.5 1932.5 L1593 1924.7 L1593.5 1917.6 L1594 1911.3 L1594.5 1905.6 L1595 1900.5 L1595.5 1896 L1596 1892.1 L1596.5 1888.7 L1597 1885.9 L1597.5 1883.6 L1598 1881.9 L1598.5 1880.7 L1599 1880.1 L1599.5 1880.3 L1600 1882 L1600.5 1885.2 L1601 1889.9 L1601.5 1896 L1602 1903.5 L1602.5 1912.7 L1603 1923.5 L1603.5 1936.3 L1604 1951.2 L1604.5 1968.6 L1605 1988.9 L1605.5 2012.2 L1606 2038.5 L1606.5 2065.8 L1607 2088.4 L1607.5 2095.1 L1608 2070.4 L1608.5 2031.3 L1609 1994.5 L1609.5 1963.3 L1610 1937.4 L1610.5 1915.8 L1611 1897.7 L1611.5 1882.5 L1612 1869.6 L1612.5 1858.8 L1613 1849.7 L1613.5 1842.4 L1614 1836.5 L1614.5 1832.2 L1615 1829.4 L1615.5 1828.2 L1616 1828.6 L1616.5 1830.2 L1617 1833 L1617.5 1837 L1618 1842.1 L1618.5 1848.4 L1619 1856 L1619.5 1864.9 L1620 1875.4 L1620.5 1887.6 L1621 1901.9 L1621.5 1918.6 L1622 1938.5 L1622.5 1962.3 L1623 1991.6 L1623.5 2028.5 L1624 2077.1 L1624.5 2143.1 L1625 2215.8 L1625.5 2194.3 L1626 2118.3 L1626.5 2058.9 L1627 2014.8 L1627.5 1980.8 L1628 1953.6 L1628.5 1931.3 L1629 1912.6 L1629.5 1896.7 L1630 1883.2 L1630.5 1871.6 L1631 1861.7 L1631.5 1853.3 L1632 1846.1 L1632.5 1840.2 L1633 1835.5 L1633.5 1831.9 L1634 1829.5 L1634.5 1828.3 L1635 1828.3 L1635.5 1829.3 L1636 1831.2 L1636.5 1834 L1637 1837.5 L1637.5 1841.9 L1638 1847.2 L1638.5 1853.4 L1639 1860.5 L1639.5 1868.6 L1640 1877.9 L1640.5 1888.3 L1641 1900.2 L1641.5 1913.7 L1642 1929 L1642.5 1946.4 L1643 1966.2 L1643.5 1988.7 L1644 2013.9 L1644.5 2040.7 L1645 2065.4 L1645.5 2079.9 L1646 2079.2 L1646.5 2072.1 L1647 2061 L1647.5 2047.8 L1648 2033.9 L1648.5 2020.2 L1649 2007.1 L1649.5 1994.9 L1650 1983.7 L1650.5 1973.5 L1651 1964.2 L1651.5 1955.8 L1652 1948.3 L1652.5 1941.6 L1653 1935.7 L1653.5 1930.6 L1654 1926.2 L1654.5 1922.6 L1655 1919.7 L1655.5 1917.5 L1656 1916.1 L1656.5 1915.6 L1657 1915.9 L1657.5 1917 L1658 1919 L1658.5 1921.6 L1659 1925 L1659.5 1929.1 L1660 1933.9 L1660.5 1939.5 L1661 1945.9 L1661.5 1953 L1662 1960.9 L1662.5 1969.7 L1663 1979.4 L1663.5 1990.1 L1664 2001.6 L1664.5 2013.9 L1665 2026.8 L1665.5 2039.9 L1666 2052.5 L1666.5 2063.5 L1667 2071.2 L1667.5 2074 L1668 2070.3 L1668.5 2060.6 L1669 2047.4 L1669.5 2032.6 L1670 2017.6 L1670.5 2003.1 L1671 1989.6 L1671.5 1977.1 L1672 1965.8 L1672.5 1955.5 L1673 1946.2 L1673.5 1937.8 L1674 1930.4 L1674.5 1923.8 L1675 1918 L1675.5 1913 L1676 1908.8 L1676.5 1905.3 L1677 1902.6 L1677.5 1900.6 L1678 1899.5 L1678.5 1899.2 L1679 1900 L1679.5 1902 L1680 1905.1 L1680.5 1909.2 L1681 1914.4 L1681.5 1920.8 L1682 1928.3 L1682.5 1937 L1683 1947.1 L1683.5 1958.8 L1684 1972.1 L1684.5 1987.4 L1685 2005 L1685.5 2025.1 L1686 2048 L1686.5 2073.3 L1687 2099.4 L1687.5 2121.4 L1688 2129.9 L1688.5 2125.3 L1689 2114 L1689.5 2098.8 L1690 2082.2 L1690.5 2065.6 L1691 2049.8 L1691.5 2035.2 L1692 2021.7 L1692.5 2009.4 L1693 1998.2 L1693.5 1988.1 L1694 1978.9 L1694.5 1970.7 L1695 1963.3 L1695.5 1956.6 L1696 1950.6 L1696.5 1945.4 L1697 1940.8 L1697.5 1936.8 L1698 1933.5 L1698.5 1930.8 L1699 1928.8 L1699.5 1927.3 L1700 1926.6 L1700.5 1926.6 L1701 1927.4 L1701.5 1929.1 L1702 1931.5 L1702.5 1934.6 L1703 1938.5 L1703.5 1943.1 L1704 1948.4 L1704.5 1954.5 L1705 1961.4 L1705.5 1969.1 L1706 1977.7 L1706.5 1987.3 L1707 1997.7 L1707.5 2009.1 L1708 2021.4 L1708.5 2034.5 L1709 2048.1 L1709.5 2061.5 L1710 2073.8 L1710.5 2083.4 L1711 2088.6 L1711.5 2087.8 L1712 2081.3 L1712.5 2070.8 L1713 2058.1 L1713.5 2044.5 L1714 2031 L1714.5 2018.1 L1715 2006.1 L1715.5 1994.9 L1716 1984.7 L1716.5 1975.4 L1717 1967.1 L1717.5 1959.6 L1718 1952.9 L1718.5 1947 L1719 1941.8 L1719.5 1937.4 L1720 1933.7 L1720.5 1930.8 L1721 1928.6 L1721.5 1927.1 L1722 1926.5 L1722.5 1926.9 L1723 1928.7 L1723.5 1931.7 L1724 1935.9 L1724.5 1941.3 L1725 1947.8 L1725.5 1955.5 L1726 1964.4 L1726.5 1974.4 L1727 1985.7 L1727.5 1998.1 L1728 2011.4 L1728.5 2025.1 L1729 2038.3 L1729.5 2049.4 L1730 2056.3 L1730.5 2057.3 L1731 2054.8 L1731.5 2049.7 L1732 2042.8 L1732.5 2034.7 L1733 2025.9 L1733.5 2016.8 L1734 2007.8 L1734.5 1998.9 L1735 1990.4 L1735.5 1982.3 L1736 1974.6 L1736.5 1967.5 L1737 1960.8 L1737.5 1954.6 L1738 1948.9 L1738.5 1943.6 L1739 1938.9 L1739.5 1934.5 L1740 1930.6 L1740.5 1927.2 L1741 1924.2 L1741.5 1921.6 L1742 1919.4 L1742.5 1917.7 L1743 1916.5 L1743.5 1915.8 L1744 1915.6 L1744.5 1916.6 L1745 1919.2 L1745.5 1923.2 L1746 1928.8 L1746.5 1935.9 L1747 1944.6 L1747.5 1955 L1748 1967.4 L1748.5 1982 L1749 1999.3 L1749.5 2019.7 L1750 2043.9 L1750.5 2072.5 L1751 2105.5 L1751.5 2139.7 L1752 2162.6 L1752.5 2162.3 L1753 2154.2 L1753.5 2141.6 L1754 2126.8 L1754.5 2111.2 L1755 2096 L1755.5 2081.5 L1756 2067.9 L1756.5 2055.4 L1757 2043.9 L1757.5 2033.4 L1758 2023.7 L1758.5 2014.9 L1759 2006.9 L1759.5 1999.6 L1760 1992.9 L1760.5 1986.9 L1761 1981.5 L1761.5 1976.6 L1762 1972.3 L1762.5 1968.5 L1763 1965.2 L1763.5 1962.5 L1764 1960.2 L1764.5 1958.5 L1765 1957.3 L1765.5 1956.7 L1766 1956.6 L1766.5 1957.5 L1767 1959.2 L1767.5 1961.7 L1768 1965.1 L1768.5 1969.3 L1769 1974.3 L1769.5 1980.2 L1770 1986.9 L1770.5 1994.7 L1771 2003.5 L1771.5 2013.4 L1772 2024.6 L1772.5 2037.2 L1773 2051.4 L1773.5 2067.4 L1774 2085.3 L1774.5 2105.2 L1775 2126.9 L1775.5 2149.2 L1776 2169.2 L1776.5 2181.7 L1777 2179.7 L1777.5 2159.6 L1778 2131.6 L1778.5 2103.5 L1779 2078 L1779.5 2055.5 L1780 2035.8 L1780.5 2018.7 L1781 2003.6 L1781.5 1990.4 L1782 1978.8 L1782.5 1968.5 L1783 1959.5 L1783.5 1951.6 L1784 1944.7 L1784.5 1938.7 L1785 1933.6 L1785.5 1929.4 L1786 1926 L1786.5 1923.5 L1787 1921.8 L1787.5 1921.1 L1788 1921.3 L1788.5 1922.6 L1789 1925 L1789.5 1928.3 L1790 1932.6 L1790.5 1937.9 L1791 1944.1 L1791.5 1951.3 L1792 1959.6 L1792.5 1969 L1793 1979.6 L1793.5 1991.4 L1794 2004.5 L1794.5 2018.8 L1795 2034.1 L1795.5 2049.8 L1796 2064.8 L1796.5 2077.2 L1797 2084.2 L1797.5 2083.7 L1798 2076.9 L1798.5 2065.9 L1799 2052.6 L1799.5 2038.6 L1800 2024.9 L1800.5 2011.9 L1801 1999.9 L1801.5 1989 L1802 1979.2 L1802.5 1970.4 L1803 1962.6 L1803.5 1955.9 L1804 1950 L1804.5 1945.1 L1805 1941.1 L1805.5 1938.1 L1806 1936 L1806.5 1934.8 L1807 1934.8 L1807.5 1936 L1808 1938.2 L1808.5 1941.4 L1809 1945.7 L1809.5 1950.9 L1810 1957.2 L1810.5 1964.6 L1811 1973.2 L1811.5 1982.9 L1812 1994.1 L1812.5 2006.6 L1813 2020.8 L1813.5 2036.6 L1814 2054.1 L1814.5 2072.8 L1815 2091.9 L1815.5 2109.1 L1816 2120.7 L1816.5 2122.8 L1817 2118.3 L1817.5 2109.8 L1818 2098.6 L1818.5 2086.2 L1819 2073.4 L1819.5 2060.8 L1820 2048.8 L1820.5 2037.6 L1821 2027.1 L1821.5 2017.4 L1822 2008.6 L1822.5 2000.5 L1823 1993.1 L1823.5 1986.4 L1824 1980.4 L1824.5 1975.1 L1825 1970.3 L1825.5 1966.2 L1826 1962.6 L1826.5 1959.6 L1827 1957.3 L1827.5 1955.5 L1828 1954.3 L1828.5 1953.8 L1829 1954.1 L1829.5 1955.1 L1830 1956.9 L1830.5 1959.5 L1831 1962.8 L1831.5 1966.7 L1832 1971.4 L1832.5 1976.8 L1833 1982.9 L1833.5 1989.8 L1834 1997.4 L1834.5 2005.9 L1835 2015.2 L1835.5 2025.3 L1836 2036.2 L1836.5 2047.8 L1837 2059.9 L1837.5 2072.1 L1838 2083.8 L1838.5 2093.9 L1839 2101.1 L1839.5 2104 L1840 2101.3 L1840.5 2093.3 L1841 2081.7 L1841.5 2068.5 L1842 2054.7 L1842.5 2041.2 L1843 2028.5 L1843.5 2016.6 L1844 2005.6 L1844.5 1995.7 L1845 1986.6 L1845.5 1978.5 L1846 1971.2 L1846.5 1964.7 L1847 1959 L1847.5 1954.1 L1848 1949.9 L1848.5 1946.4 L1849 1943.7 L1849.5 1941.7 L1850 1940.5 L1850.5 1940.2 L1851 1940.9 L1851.5 1942.9 L1852 1946.1 L1852.5 1950.3 L1853 1955.5 L1853.5 1961.8 L1854 1969.2 L1854.5 1977.5 L1855 1986.8 L1855.5 1996.9 L1856 2007.8 L1856.5 2019.1 L1857 2030.2 L1857.5 2040.3 L1858 2048 L1858.5 2051.9 L1859 2051.8 L1859.5 2050.1 L1860 2047.3 L1860.5 2043.5 L1861 2039 L1861.5 2034 L1862 2028.6 L1862.5 2023 L1863 2017.3 L1863.5 2011.7 L1864 2006.2 L1864.5 2000.9 L1865 1995.8 L1865.5 1991 L1866 1986.4 L1866.5 1982.1 L1867 1978.1 L1867.5 1974.4 L1868 1971.1 L1868.5 1968 L1869 1965.3 L1869.5 1963 L1870 1960.9 L1870.5 1959.3 L1871 1958 L1871.5 1957.1 L1872 1956.6 L1872.5 1956.7 L1873 1958 L1873.5 1960.7 L1874 1964.8 L1874.5 1970.1 L1875 1976.7 L1875.5 1984.7 L1876 1994 L1876.5 2004.9 L1877 2017.3 L1877.5 2031.3 L1878 2046.9 L1878.5 2064 L1879 2081.6 L1879.5 2098.4 L1880 2111.3 L1880.5 2116.3 L1881 2113.3 L1881.5 2105.4 L1882 2094.2 L1882.5 2081.4 L1883 2068.1 L1883.5 2055.1 L1884 2042.7 L1884.5 2031.1 L1885 2020.4 L1885.5 2010.7 L1886 2001.9 L1886.5 1993.9 L1887 1986.8 L1887.5 1980.4 L1888 1974.8 L1888.5 1970 L1889 1965.9 L1889.5 1962.5 L1890 1959.9 L1890.5 1958 L1891 1956.8 L1891.5 1956.5 L1892 1956.6 L1892.5 1956.9 L1893 1957.3 L1893.5 1957.8 L1894 1958.5 L1894.5 1959.5 L1895 1960.6 L1895.5 1961.9 L1896 1963.5 L1896.5 1965.3 L1897 1967.4 L1897.5 1969.8 L1898 1972.6 L1898.5 1975.7 L1899 1979.3 L1899.5 1983.4 L1900 1988.1 L1900.5 1993.5 L1901 1999.7 L1901.5 2006.9 L1902 2015.4" fill="none" stroke="#0000ff" stroke-width="13.2" stroke-dasharray="46 10.5 22 10.5" stroke-linejoin="bevel"/>
<path d="M298.3 1836.5 L301.3 1833 L304.3 1829.7 L307.3 1826.8 L310.3 1824 L313.3 1821.5 L316.3 1819.1 L319.3 1816.8 L322.3 1814.6 L325.3 1812.4 L328.3 1810.2 L331.3 1808 L334.3 1805.8 L337.3 1803.5 L340.3 1801.1 L343.3 1798.8 L346.3 1796.5 L349.3 1794.3 L352.3 1792.2 L355.3 1790.3 L358.3 1788.4 L361.3 1786.6 L364.3 1785 L367.3 1783.4 L370.3 1781.9 L373.3 1780.4 L376.3 1779.1 L379.3 1777.8 L382.3 1776.6 L385.3 1775.4 L388.3 1774.3 L391.3 1773.3 L394.3 1772.3 L397.3 1771.3 L400.3 1770.5 L403.3 1769.7 L406.3 1768.9 L409.3 1768.3 L412.3 1767.6 L415.3 1767.1 L418.3 1766.6 L421.3 1766.1 L424.3 1765.7 L427.3 1765.4 L430.3 1765.1 L433.3 1764.8 L436.3 1764.6 L439.3 1764.4 L442.3 1764.3 L445.3 1764.3 L448.3 1764.2 L451.3 1764.3 L454.3 1764.4 L457.3 1764.6 L460.3 1764.9 L463.3 1765.2 L466.3 1765.6 L469.3 1766 L472.3 1766.5 L475.3 1767 L478.3 1767.5 L481.3 1768.1 L484.3 1768.7 L487.3 1769.3 L490.3 1770 L493.3 1770.7 L496.3 1771.5 L499.3 1772.3 L502.3 1773.1 L505.3 1773.9 L508.3 1774.7 L511.3 1775.5 L514.3 1776.3 L517.3 1777.2 L520.3 1778 L523.3 1778.9 L526.3 1779.7 L529.3 1780.6 L532.3 1781.5 L535.3 1782.4 L538.3 1783.3 L541.3 1784.2 L544.3 1785.1 L547.3 1786.1 L550.3 1787 L553.3 1787.9 L556.3 1788.8 L559.3 1789.7 L562.3 1790.5 L565.3 1791.3 L568.3 1792.1 L571.3 1792.9 L574.3 1793.6 L577.3 1794.4 L580.3 1795.2 L583.3 1795.9 L586.3 1796.7 L589.3 1797.4 L592.3 1798.1 L595.3 1798.8 L598.3 1799.4 L601.3 1799.9 L604.3 1800.4 L607.3 1800.9 L610.3 1801.3 L613.3 1801.7 L616.3 1802 L619.3 1802.3 L622.3 1802.6 L625.3 1802.8 L628.3 1803 L631.3 1803.1 L634.3 1803.3 L637.3 1803.3 L640.3 1803.4 L643.3 1803.4 L646.3 1803.3 L649.3 1803.1 L652.3 1802.8 L655.3 1802.4 L658.3 1802 L661.3 1801.5 L664.3 1801 L667.3 1800.5 L670.3 1799.9 L673.3 1799.4 L676.3 1798.8 L679.3 1798.1 L682.3 1797.5 L685.3 1796.8 L688.3 1796.1 L691.3 1795.3 L694.3 1794.5 L697.3 1793.7 L700.3 1792.9 L703.3 1792 L706.3 1791.2 L709.3 1790.3 L712.3 1789.4 L715.3 1788.6 L718.3 1787.8 L721.3 1787.1 L724.3 1786.4 L727.3 1785.8 L730.3 1785.2 L733.3 1784.7 L736.3 1784.2 L739.3 1783.7 L742.3 1783.4 L745.3 1783 L748.3 1782.7 L751.3 1782.5 L754.3 1782.4 L757.3 1782.3 L760.3 1782.4 L763.3 1782.6 L766.3 1782.9 L769.3 1783.3 L772.3 1784 L775.3 1784.8 L778.3 1785.7 L781.3 1786.7 L784.3 1787.8 L787.3 1788.8 L790.3 1789.8 L793.3 1790.8 L796.3 1791.9 L799.3 1793.2 L802.3 1795 L805.3 1797.3 L808.3 1799.9 L811.3 1802.8 L814.3 1805.9 L817.3 1809.1 L820.3 1812.4 L823.3 1815.8 L826.3 1819.1 L829.3 1822.4 L832.3 1825.7 L835.3 1828.9 L838.3 1832 L841.3 1834.9 L844.3 1837.7 L847.3 1840.3 L850.3 1842.8 L853.3 1845 L856.3 1846.9 L859.3 1848.6 L862.3 1850 L865.3 1850.9 L868.3 1851.5 L871.3 1851.5 L874.3 1851.1 L877.3 1850.3 L880.3 1849 L883.3 1847.5 L886.3 1845.6 L889.3 1843.5 L892.3 1841.2 L895.3 1838.8 L898.3 1836.3 L901.3 1833.8 L904.3 1831.4 L907.3 1829 L910.3 1826.8 L913.3 1824.8 L916.3 1823 L919.3 1821.5 L922.3 1820.2 L925.3 1819.2 L928.3 1818.6 L931.3 1818.2 L934.3 1818 L937.3 1818 L940.3 1818.2 L943.3 1818.5 L946.3 1818.9 L949.3 1819.5 L952.3 1820.2 L955.3 1820.9 L958.3 1821.8 L961.3 1822.8 L964.3 1823.9 L967.3 1825.1 L970.3 1826.3 L973.3 1827.7 L976.3 1829.1 L979.3 1830.6 L982.3 1832.1 L985.3 1833.6 L988.3 1835.1 L991.3 1836.6 L994.3 1838.1 L997.3 1839.5 L1000.3 1840.8 L1003.3 1842 L1006.3 1843.1 L1009.3 1844.1 L1012.3 1845 L1015.3 1845.8 L1018.3 1846.4 L1021.3 1846.9 L1024.3 1847.2 L1027.3 1847.3 L1030.3 1847.3 L1033.3 1847.1 L1036.3 1846.7 L1039.3 1846.2 L1042.3 1845.5 L1045.3 1844.7 L1048.3 1843.7 L1051.3 1842.7 L1054.3 1841.5 L1057.3 1840.2 L1060.3 1838.9 L1063.3 1837.6 L1066.3 1836.2 L1069.3 1834.8 L1072.3 1833.3 L1075.3 1831.8 L1078.3 1830.2 L1081.3 1828.5 L1084.3 1826.8 L1087.3 1824.9 L1090.3 1823.1 L1093.3 1821.3 L1096.3 1819.5 L1099.3 1817.8 L1102.3 1816.2 L1105.3 1814.6 L1108.3 1813.2 L1111.3 1811.7 L1114.3 1810.3 L1117.3 1808.8 L1120.3 1807.3 L1123.3 1805.8 L1126.3 1804.3 L1129.3 1802.8 L1132.3 1801.3 L1135.3 1799.9 L1138.3 1798.5 L1141.3 1797.2 L1144.3 1795.9 L1147.3 1794.6 L1150.3 1793.3 L1153.3 1792 L1156.3 1790.7 L1159.3 1789.5 L1162.3 1788.3 L1165.3 1787.1 L1168.3 1786.1 L1171.3 1785.1 L1174.3 1784.3 L1177.3 1783.5 L1180.3 1782.9 L1183.3 1782.4 L1186.3 1782 L1189.3 1781.8 L1192.3 1781.6 L1195.3 1781.6 L1198.3 1781.7 L1201.3 1782 L1204.3 1782.5 L1207.3 1783.1 L1210.3 1784 L1213.3 1785 L1216.3 1786.1 L1219.3 1787.4 L1222.3 1788.8 L1225.3 1790.4 L1228.3 1792 L1231.3 1793.8 L1234.3 1795.7 L1237.3 1797.8 L1240.3 1799.9 L1243.3 1802.1 L1246.3 1804.4 L1249.3 1806.6 L1252.3 1808.7 L1255.3 1810.5 L1258.3 1812.1 L1261.3 1813.4 L1264.3 1814.5 L1267.3 1815.3 L1270.3 1815.9 L1273.3 1816.4 L1276.3 1816.7 L1279.3 1816.8 L1282.3 1816.9 L1285.3 1816.8 L1288.3 1816.7 L1291.3 1816.5 L1294.3 1816.2 L1297.3 1815.9 L1300.3 1815.6 L1303.3 1815.2 L1306.3 1814.9 L1309.3 1814.7 L1312.3 1814.5 L1315.3 1814.4 L1318.3 1814.4 L1321.3 1814.4 L1324.3 1814.4 L1327.3 1814.5 L1330.3 1814.7 L1333.3 1815 L1336.3 1815.5 L1339.3 1816.1 L1342.3 1817 L1345.3 1817.9 L1348.3 1819 L1351.3 1820.1 L1354.3 1821.4 L1357.3 1822.6 L1360.3 1823.9 L1363.3 1825.2 L1366.3 1826.4 L1369.3 1827.6 L1372.3 1828.6 L1375.3 1829.5 L1378.3 1830.2 L1381.3 1830.8 L1384.3 1831.2 L1387.3 1831.5 L1390.3 1831.6 L1393.3 1831.5 L1396.3 1831.2 L1399.3 1830.8 L1402.3 1830.3 L1405.3 1829.5 L1408.3 1828.6 L1411.3 1827.5 L1414.3 1826.2 L1417.3 1824.8 L1420.3 1823.1 L1423.3 1821.3 L1426.3 1819.3 L1429.3 1817.2 L1432.3 1814.9 L1435.3 1812.4 L1438.3 1809.9 L1441.3 1807.3 L1444.3 1804.7 L1447.3 1802.1 L1450.3 1799.5 L1453.3 1796.8 L1456.3 1794 L1459.3 1791.2 L1462.3 1788.4 L1465.3 1785.5 L1468.3 1782.5 L1471.3 1779.5 L1474.3 1776.4 L1477.3 1773.3 L1480.3 1770.2 L1483.3 1767.1 L1486.3 1763.9 L1489.3 1760.6 L1492.3 1757.2 L1495.3 1753.6 L1498.3 1749.9 L1501.3 1746.1 L1504.3 1742.2 L1507.3 1738.2 L1510.3 1734.2 L1513.3 1730.2 L1516.3 1726.4 L1519.3 1722.5 L1522.3 1718.9 L1525.3 1715.3 L1528.3 1711.9 L1531.3 1708.8 L1534.3 1705.8 L1537.3 1703.1 L1540.3 1700.6 L1543.3 1698.4 L1546.3 1696.4 L1549.3 1694.8 L1552.3 1693.5 L1555.3 1692.4 L1558.3 1691.5 L1561.3 1690.8 L1564.3 1690.3 L1567.3 1689.9 L1570.3 1689.5 L1573.3 1689.3 L1576.3 1689.4 L1579.3 1689.6 L1582.3 1690.1 L1585.3 1690.7 L1588.3 1691.5 L1591.3 1692.5 L1594.3 1693.7 L1597.3 1695.1 L1600.3 1696.7 L1603.3 1698.6 L1606.3 1700.6 L1609.3 1702.9 L1612.3 1705.4 L1615.3 1708.1 L1618.3 1711 L1621.3 1714 L1624.3 1717.1 L1627.3 1720.4 L1630.3 1723.8 L1633.3 1727.2 L1636.3 1730.8 L1639.3 1734.3 L1642.3 1738 L1645.3 1741.6 L1648.3 1745.2 L1651.3 1748.8 L1654.3 1752.3 L1657.3 1755.8 L1660.3 1759.2 L1663.3 1762.5 L1666.3 1765.8 L1669.3 1768.9 L1672.3 1772 L1675.3 1775 L1678.3 1777.8 L1681.3 1780.5 L1684.3 1783.1 L1687.3 1785.5 L1690.3 1787.8 L1693.3 1789.9 L1696.3 1791.8 L1699.3 1793.5 L1702.3 1795.2 L1705.3 1796.7 L1708.3 1798.1 L1711.3 1799.4 L1714.3 1800.7 L1717.3 1801.9 L1720.3 1803 L1723.3 1804 L1726.3 1805 L1729.3 1805.9 L1732.3 1806.8 L1735.3 1807.7 L1738.3 1808.6 L1741.3 1809.4 L1744.3 1810.3 L1747.3 1811.2 L1750.3 1812.1 L1753.3 1813 L1756.3 1813.9 L1759.3 1814.8 L1762.3 1815.7 L1765.3 1816.7 L1768.3 1817.6 L1771.3 1818.5 L1774.3 1819.3 L1777.3 1820.2 L1780.3 1821.1 L1783.3 1821.9 L1786.3 1822.8 L1789.3 1823.7 L1792.3 1824.6 L1795.3 1825.7 L1798.3 1826.8 L1801.3 1828 L1804.3 1829.2 L1807.3 1830.5 L1810.3 1831.7 L1813.3 1833 L1816.3 1834.2 L1819.3 1835.4 L1822.3 1836.6 L1825.3 1837.8 L1828.3 1839 L1831.3 1840.1 L1834.3 1841.3 L1837.3 1842.4 L1840.3 1843.5 L1843.3 1844.5 L1846.3 1845.5 L1849.3 1846.4 L1852.3 1847.2 L1855.3 1848 L1858.3 1848.7 L1861.3 1849.4 L1864.3 1850.1 L1867.3 1850.7 L1870.3 1851.3 L1873.3 1851.9 L1876.3 1852.4 L1879.3 1852.8 L1882.3 1853.2 L1885.3 1853.6 L1888.3 1853.8 L1891.3 1854 L1894.3 1854.1 L1897.3 1854.1 L1900 1854" fill="none" stroke="#000" stroke-width="13.2" stroke-linejoin="round"/>
<path d="M298.3 1863.9 L301.3 1863.3 L304.3 1862.8 L307.3 1862.3 L310.3 1861.9 L313.3 1861.6 L316.3 1861.3 L319.3 1861.1 L322.3 1860.9 L325.3 1860.8 L328.3 1860.7 L331.3 1860.7 L334.3 1860.7 L337.3 1860.7 L340.3 1860.7 L343.3 1860.8 L346.3 1860.9 L349.3 1861 L352.3 1861.1 L355.3 1861.3 L358.3 1861.4 L361.3 1861.6 L364.3 1861.8 L367.3 1861.9 L370.3 1862.1 L373.3 1862.3 L376.3 1862.5 L379.3 1862.7 L382.3 1862.9 L385.3 1863.2 L388.3 1863.4 L391.3 1863.6 L394.3 1863.8 L397.3 1864.1 L400.3 1864.3 L403.3 1864.5 L406.3 1864.7 L409.3 1864.9 L412.3 1865.1 L415.3 1865.3 L418.3 1865.5 L421.3 1865.7 L424.3 1865.8 L427.3 1865.9 L430.3 1866 L433.3 1866.1 L436.3 1866.2 L439.3 1866.3 L442.3 1866.3 L445.3 1866.3 L448.3 1866.3 L451.3 1866.3 L454.3 1866.3 L457.3 1866.3 L460.3 1866.3 L463.3 1866.2 L466.3 1866.1 L469.3 1866.1 L472.3 1866 L475.3 1865.9 L478.3 1865.8 L481.3 1865.8 L484.3 1865.7 L487.3 1865.7 L490.3 1865.6 L493.3 1865.6 L496.3 1865.6 L499.3 1865.6 L502.3 1865.6 L505.3 1865.7 L508.3 1865.7 L511.3 1865.8 L514.3 1865.9 L517.3 1866.1 L520.3 1866.3 L523.3 1866.5 L526.3 1866.7 L529.3 1867 L532.3 1867.3 L535.3 1867.7 L538.3 1868.2 L541.3 1868.7 L544.3 1869.3 L547.3 1870.1 L550.3 1870.9 L553.3 1871.8 L556.3 1872.8 L559.3 1873.8 L562.3 1874.9 L565.3 1876 L568.3 1877.2 L571.3 1878.4 L574.3 1879.6 L577.3 1880.9 L580.3 1882.2 L583.3 1883.6 L586.3 1885 L589.3 1886.4 L592.3 1887.8 L595.3 1889.2 L598.3 1890.5 L601.3 1891.7 L604.3 1893 L607.3 1894.1 L610.3 1895.3 L613.3 1896.4 L616.3 1897.5 L619.3 1898.6 L622.3 1899.6 L625.3 1900.6 L628.3 1901.6 L631.3 1902.5 L634.3 1903.4 L637.3 1904.3 L640.3 1905.1 L643.3 1905.8 L646.3 1906.5 L649.3 1907.2 L652.3 1907.7 L655.3 1908.3 L658.3 1908.7 L661.3 1909.1 L664.3 1909.4 L667.3 1909.6 L670.3 1909.7 L673.3 1909.8 L676.3 1909.8 L679.3 1909.7 L682.3 1909.6 L685.3 1909.4 L688.3 1909.2 L691.3 1908.9 L694.3 1908.5 L697.3 1908.2 L700.3 1907.9 L703.3 1907.5 L706.3 1907.2 L709.3 1906.9 L712.3 1906.6 L715.3 1906.3 L718.3 1906 L721.3 1905.8 L724.3 1905.6 L727.3 1905.4 L730.3 1905.2 L733.3 1905 L736.3 1904.9 L739.3 1904.9 L742.3 1904.9 L745.3 1904.9 L748.3 1905 L751.3 1905.1 L754.3 1905.3 L757.3 1905.5 L760.3 1905.8 L763.3 1906.1 L766.3 1906.6 L769.3 1907.2 L772.3 1907.9 L775.3 1908.9 L778.3 1909.9 L781.3 1910.9 L784.3 1911.8 L787.3 1912.6 L790.3 1913.2 L793.3 1913.6 L796.3 1914 L799.3 1914.6 L802.3 1915.6 L805.3 1916.9 L808.3 1918.7 L811.3 1920.6 L814.3 1922.8 L817.3 1925.1 L820.3 1927.4 L823.3 1929.7 L826.3 1932.1 L829.3 1934.5 L832.3 1937 L835.3 1939.5 L838.3 1942 L841.3 1944.6 L844.3 1947.3 L847.3 1950 L850.3 1952.9 L853.3 1955.7 L856.3 1958.7 L859.3 1961.6 L862.3 1964.7 L865.3 1967.7 L868.3 1970.7 L871.3 1973.7 L874.3 1976.7 L877.3 1979.7 L880.3 1982.7 L883.3 1985.7 L886.3 1988.7 L889.3 1991.8 L892.3 1994.9 L895.3 1998 L898.3 2001.1 L901.3 2004.1 L904.3 2006.9 L907.3 2009.5 L910.3 2011.8 L913.3 2014 L916.3 2016.1 L919.3 2018 L922.3 2019.7 L925.3 2021.4 L928.3 2023 L931.3 2024.4 L934.3 2025.7 L937.3 2026.9 L940.3 2027.8 L943.3 2028.5 L946.3 2028.9 L949.3 2029 L952.3 2028.7 L955.3 2028 L958.3 2027 L961.3 2025.5 L964.3 2023.7 L967.3 2021.6 L970.3 2019.3 L973.3 2016.8 L976.3 2014.2 L979.3 2011.6 L982.3 2008.9 L985.3 2006.2 L988.3 2003.5 L991.3 2000.7 L994.3 1998 L997.3 1995.2 L1000.3 1992.5 L1003.3 1989.8 L1006.3 1987.1 L1009.3 1984.5 L1012.3 1981.9 L1015.3 1979.4 L1018.3 1976.9 L1021.3 1974.5 L1024.3 1972.2 L1027.3 1969.9 L1030.3 1967.7 L1033.3 1965.5 L1036.3 1963.3 L1039.3 1961.2 L1042.3 1959.2 L1045.3 1957.2 L1048.3 1955.3 L1051.3 1953.5 L1054.3 1951.7 L1057.3 1949.9 L1060.3 1948.2 L1063.3 1946.4 L1066.3 1944.6 L1069.3 1942.8 L1072.3 1941 L1075.3 1939.2 L1078.3 1937.4 L1081.3 1935.6 L1084.3 1933.8 L1087.3 1932 L1090.3 1930.2 L1093.3 1928.4 L1096.3 1926.6 L1099.3 1924.8 L1102.3 1923 L1105.3 1921.3 L1108.3 1919.5 L1111.3 1917.7 L1114.3 1915.8 L1117.3 1914 L1120.3 1912.1 L1123.3 1910.2 L1126.3 1908.3 L1129.3 1906.3 L1132.3 1904.4 L1135.3 1902.4 L1138.3 1900.5 L1141.3 1898.6 L1144.3 1896.7 L1147.3 1894.9 L1150.3 1893.1 L1153.3 1891.5 L1156.3 1889.9 L1159.3 1888.5 L1162.3 1887.2 L1165.3 1886 L1168.3 1885 L1171.3 1884.3 L1174.3 1883.7 L1177.3 1883.3 L1180.3 1883.2 L1183.3 1883.2 L1186.3 1883.4 L1189.3 1883.9 L1192.3 1884.7 L1195.3 1885.9 L1198.3 1887.6 L1201.3 1889.6 L1204.3 1892.2 L1207.3 1895.1 L1210.3 1898.3 L1213.3 1902 L1216.3 1905.9 L1219.3 1910.1 L1222.3 1914.4 L1225.3 1918.9 L1228.3 1923.5 L1231.3 1928.1 L1234.3 1932.6 L1237.3 1937 L1240.3 1941.3 L1243.3 1945.4 L1246.3 1949.2 L1249.3 1952.8 L1252.3 1956.2 L1255.3 1959.3 L1258.3 1961.9 L1261.3 1964 L1264.3 1965.2 L1267.3 1965.6 L1270.3 1965.2 L1273.3 1964.3 L1276.3 1962.8 L1279.3 1961.2 L1282.3 1959.2 L1285.3 1957 L1288.3 1954.6 L1291.3 1951.9 L1294.3 1948.9 L1297.3 1945.8 L1300.3 1942.7 L1303.3 1939.7 L1306.3 1937 L1309.3 1934.8 L1312.3 1933 L1315.3 1931.8 L1318.3 1931.3 L1321.3 1931.5 L1324.3 1932.3 L1327.3 1933.6 L1330.3 1935 L1333.3 1936.4 L1336.3 1937.7 L1339.3 1939.1 L1342.3 1940.7 L1345.3 1942.6 L1348.3 1944.6 L1351.3 1946.8 L1354.3 1949.2 L1357.3 1951.7 L1360.3 1954.2 L1363.3 1956.7 L1366.3 1959.1 L1369.3 1961.5 L1372.3 1963.6 L1375.3 1965.6 L1378.3 1967.3 L1381.3 1968.7 L1384.3 1969.8 L1387.3 1970.6 L1390.3 1971 L1393.3 1970.9 L1396.3 1970.5 L1399.3 1969.7 L1402.3 1968.6 L1405.3 1967.1 L1408.3 1965.4 L1411.3 1963.4 L1414.3 1961.2 L1417.3 1959 L1420.3 1956.8 L1423.3 1954.7 L1426.3 1952.8 L1429.3 1951.2 L1432.3 1949.8 L1435.3 1948.6 L1438.3 1947.6 L1441.3 1946.8 L1444.3 1946.1 L1447.3 1945.5 L1450.3 1945 L1453.3 1944.7 L1456.3 1944.6 L1459.3 1944.7 L1462.3 1944.9 L1465.3 1945.3 L1468.3 1945.8 L1471.3 1946.4 L1474.3 1947.1 L1477.3 1947.8 L1480.3 1948.7 L1483.3 1949.6 L1486.3 1950.7 L1489.3 1952 L1492.3 1953.3 L1495.3 1954.8 L1498.3 1956.4 L1501.3 1958 L1504.3 1959.5 L1507.3 1961 L1510.3 1962.3 L1513.3 1963.6 L1516.3 1964.8 L1519.3 1965.9 L1522.3 1967 L1525.3 1968 L1528.3 1968.9 L1531.3 1969.5 L1534.3 1969.9 L1537.3 1969.9 L1540.3 1969.4 L1543.3 1968.5 L1546.3 1966.9 L1549.3 1964.9 L1552.3 1962.4 L1555.3 1959.3 L1558.3 1955.8 L1561.3 1951.7 L1564.3 1947 L1567.3 1941.7 L1570.3 1935.5 L1573.3 1928.5 L1576.3 1920.5 L1579.3 1911.3 L1582.3 1901.1 L1585.3 1890 L1588.3 1878.7 L1591.3 1867.6 L1594.3 1857.2 L1597.3 1847.2 L1600.3 1837.7 L1603.3 1828.5 L1606.3 1820 L1609.3 1812.3 L1612.3 1806.1 L1615.3 1801.4 L1618.3 1798 L1621.3 1795.8 L1624.3 1794.5 L1627.3 1794.1 L1630.3 1794.8 L1633.3 1796.5 L1636.3 1799.2 L1639.3 1802.7 L1642.3 1807.1 L1645.3 1812.3 L1648.3 1818.2 L1651.3 1824.8 L1654.3 1832 L1657.3 1839.8 L1660.3 1848 L1663.3 1856.2 L1666.3 1864.1 L1669.3 1871.3 L1672.3 1877.7 L1675.3 1883.5 L1678.3 1888.7 L1681.3 1893.4 L1684.3 1897.5 L1687.3 1901.1 L1690.3 1903.9 L1693.3 1906 L1696.3 1907.5 L1699.3 1908.6 L1702.3 1909.4 L1705.3 1910 L1708.3 1910.6 L1711.3 1910.9 L1714.3 1911.2 L1717.3 1911.3 L1720.3 1911.2 L1723.3 1911.1 L1726.3 1910.9 L1729.3 1910.7 L1732.3 1910.4 L1735.3 1910.1 L1738.3 1909.9 L1741.3 1909.7 L1744.3 1909.6 L1747.3 1909.5 L1750.3 1909.5 L1753.3 1909.5 L1756.3 1909.6 L1759.3 1909.8 L1762.3 1910.1 L1765.3 1910.5 L1768.3 1911 L1771.3 1911.7 L1774.3 1912.4 L1777.3 1913.3 L1780.3 1914.2 L1783.3 1915.2 L1786.3 1916.3 L1789.3 1917.4 L1792.3 1918.5 L1795.3 1919.6 L1798.3 1920.8 L1801.3 1922.1 L1804.3 1923.4 L1807.3 1924.8 L1810.3 1926.3 L1813.3 1927.8 L1816.3 1929.4 L1819.3 1930.9 L1822.3 1932.4 L1825.3 1933.9 L1828.3 1935.3 L1831.3 1936.8 L1834.3 1938.3 L1837.3 1939.8 L1840.3 1941.5 L1843.3 1943.2 L1846.3 1944.9 L1849.3 1946.6 L1852.3 1948.3 L1855.3 1949.7 L1858.3 1951 L1861.3 1952 L1864.3 1952.8 L1867.3 1953.2 L1870.3 1953.5 L1873.3 1953.6 L1876.3 1953.5 L1879.3 1953.3 L1882.3 1953 L1885.3 1952.7 L1888.3 1952.4 L1891.3 1952.1 L1894.3 1951.8 L1897.3 1951.7 L1900 1951.6" fill="none" stroke="#000" stroke-width="13.2" stroke-dasharray="46 10.5 22 10.5" stroke-linejoin="round"/>
<g font-family="'Liberation Sans', sans-serif" font-size="80" fill="#262626">
<text x="275.2" y="1629.8" text-anchor="end">-20</text>
<text x="275.2" y="1819.6" text-anchor="end">-30</text>
<text x="275.2" y="2009.3" text-anchor="end">-40</text>
<text x="275.2" y="2199.1" text-anchor="end">-50</text>
<text x="275.2" y="2388.9" text-anchor="end">-60</text>
<text x="275.2" y="2578.6" text-anchor="end">-70</text>
<text x="275.2" y="2768.4" text-anchor="end">-80</text>
<text x="298.2" y="2839.5" text-anchor="middle">8.2</text>
<text x="635.2" y="2839.5" text-anchor="middle">9</text>
<text x="845.8" y="2839.5" text-anchor="middle">9.5</text>
<text x="1056.5" y="2839.5" text-anchor="middle">10</text>
<text x="1267.1" y="2839.5" text-anchor="middle">10.5</text>
<text x="1477.7" y="2839.5" text-anchor="middle">11</text>
<text x="1688.4" y="2839.5" text-anchor="middle">11.5</text>
<text x="1899" y="2839.5" text-anchor="middle">12</text>
</g>
<text x="1096" y="2948" font-family="'Liberation Sans', sans-serif" font-size="87.3" fill="#262626" text-anchor="middle">Frequency, GHz</text>
<text transform="translate(135 2169.3) rotate(-90)" font-family="'Liberation Sans', sans-serif" font-size="88.5" fill="#262626" text-anchor="middle">RCS, dB(m<tspan dy="-42" font-size="72">2</tspan><tspan dy="42">)</tspan></text>
<rect x="319.3" y="2327.7" width="1543" height="405.8" fill="#fff" stroke="#262626" stroke-width="3.4"/>
<path d="M323.8 2380.7 H394" stroke="#ff0000" stroke-width="11.8" fill="none"/>
<path d="M323.8 2480.9 H394" stroke="#0000ff" stroke-width="11.8" stroke-dasharray="47.3 9.9 22 10" fill="none"/>
<path d="M323.8 2580.2 H394" stroke="#000" stroke-width="12.2" fill="none"/>
<path d="M323.8 2680.6 H394" stroke="#000" stroke-width="12.2" stroke-dasharray="47.3 9.9 22 10" fill="none"/>
<g font-family="'Liberation Sans', sans-serif" font-size="79.5" fill="#000">
<text x="397" y="2410.9">DLTSA w/o FGM-125 cross-pol</text>
<text x="397" y="2511">DLTSA w/ FGM-125 cross-pol</text>
<text x="397" y="2611.1">Envelope DLTSA w/o FGM-125 cross-pol</text>
<text x="397" y="2711.2">Envelope DLTSA w/ FGM-125 cross-pol</text>
</g>
<rect x="945" y="2990" width="93" height="104" fill="#fbfbfb"/>
<text x="992.5" y="3073" font-family="'Liberation Serif', serif" font-size="74" font-weight="bold" fill="#000" text-anchor="middle">(b)</text>
</g>
</svg>
</body>
</html>
